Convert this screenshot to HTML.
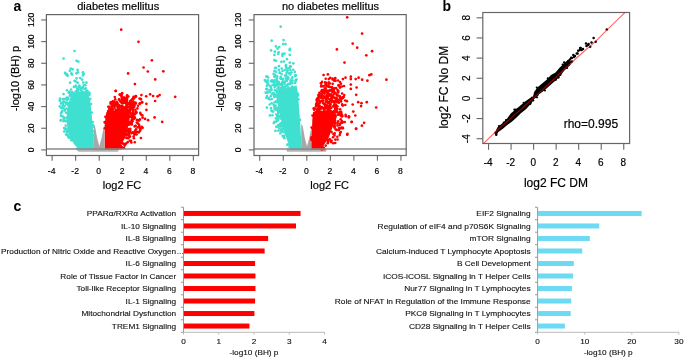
<!DOCTYPE html>
<html><head><meta charset="utf-8"><style>
html,body{margin:0;padding:0;background:#fff;overflow:hidden;}
svg{display:block;will-change:transform;}
text{font-family:"Liberation Sans",sans-serif;}
</style></head><body>
<svg width="685" height="358" viewBox="0 0 685 358">
<rect width="685" height="358" fill="#fff"/>
<rect x="77.5" y="148.5" width="41" height="3.3" rx="1.6" fill="#b4b4b4"/>
<rect x="286.5" y="148.5" width="40" height="3.3" rx="1.6" fill="#b4b4b4"/>
<polygon points="93.7,124.0 93.7,150.6 104.6,150.6 104.6,124.0 103.5,128.0 101.7,137.5 99.3,146.3 97.0,137.5 95.0,126.0" fill="#a8a8a8"/>
<polygon points="301.2,124.0 301.2,150.6 312.3,150.6 312.3,124.0 311.2,128.0 309.4,137.5 307.0,146.3 304.7,137.5 302.7,126.0" fill="#a8a8a8"/>
<polygon points="74.0,91.5 76.0,93.0 78.0,90.0 80.0,92.0 82.0,89.5 84.0,91.5 85.5,90.0 87.8,92.0 90.2,100.1 92.2,120.2 93.6,136.2 94.0,149.8 78.5,149.8 77.0,147.5 74.0,144.0 70.0,138.0 67.5,130.0 66.5,120.0 67.0,110.0 69.5,100.0 71.0,96.0 72.5,94.0" fill="#40e0d0"/>
<circle cx="73.9" cy="86.9" r="1.3" fill="#40e0d0"/><circle cx="67.2" cy="100.0" r="1.3" fill="#40e0d0"/><circle cx="89.3" cy="92.8" r="1.3" fill="#40e0d0"/><circle cx="79.7" cy="87.2" r="1.3" fill="#40e0d0"/><circle cx="65.1" cy="120.6" r="1.3" fill="#40e0d0"/><circle cx="60.0" cy="99.9" r="1.3" fill="#40e0d0"/><circle cx="71.1" cy="89.5" r="1.3" fill="#40e0d0"/><circle cx="75.7" cy="86.5" r="1.3" fill="#40e0d0"/><circle cx="64.2" cy="131.6" r="1.3" fill="#40e0d0"/><circle cx="81.2" cy="88.8" r="1.3" fill="#40e0d0"/><circle cx="66.2" cy="128.7" r="1.3" fill="#40e0d0"/><circle cx="66.5" cy="128.7" r="1.3" fill="#40e0d0"/><circle cx="67.3" cy="132.0" r="1.3" fill="#40e0d0"/><circle cx="63.8" cy="120.7" r="1.3" fill="#40e0d0"/><circle cx="66.9" cy="90.3" r="1.3" fill="#40e0d0"/><circle cx="91.0" cy="104.1" r="1.3" fill="#40e0d0"/><circle cx="75.8" cy="91.5" r="1.3" fill="#40e0d0"/><circle cx="59.7" cy="100.8" r="1.3" fill="#40e0d0"/><circle cx="78.4" cy="89.6" r="1.3" fill="#40e0d0"/><circle cx="89.4" cy="95.0" r="1.3" fill="#40e0d0"/><circle cx="93.7" cy="138.2" r="1.3" fill="#40e0d0"/><circle cx="61.2" cy="108.0" r="1.3" fill="#40e0d0"/><circle cx="81.8" cy="88.1" r="1.3" fill="#40e0d0"/><circle cx="92.8" cy="122.0" r="1.3" fill="#40e0d0"/><circle cx="67.8" cy="99.1" r="1.3" fill="#40e0d0"/><circle cx="85.7" cy="88.4" r="1.3" fill="#40e0d0"/><circle cx="63.2" cy="104.1" r="1.3" fill="#40e0d0"/><circle cx="85.4" cy="85.3" r="1.3" fill="#40e0d0"/><circle cx="66.3" cy="103.5" r="1.3" fill="#40e0d0"/><circle cx="63.8" cy="117.4" r="1.3" fill="#40e0d0"/><circle cx="77.0" cy="149.0" r="1.3" fill="#40e0d0"/><circle cx="69.7" cy="96.0" r="1.3" fill="#40e0d0"/><circle cx="65.7" cy="125.6" r="1.3" fill="#40e0d0"/><circle cx="67.5" cy="131.5" r="1.3" fill="#40e0d0"/><circle cx="69.8" cy="91.9" r="1.3" fill="#40e0d0"/><circle cx="76.3" cy="91.5" r="1.3" fill="#40e0d0"/><circle cx="90.3" cy="99.0" r="1.3" fill="#40e0d0"/><circle cx="92.9" cy="124.7" r="1.3" fill="#40e0d0"/><circle cx="88.5" cy="92.7" r="1.3" fill="#40e0d0"/><circle cx="62.4" cy="110.9" r="1.3" fill="#40e0d0"/><circle cx="66.5" cy="131.3" r="1.3" fill="#40e0d0"/><circle cx="64.1" cy="128.1" r="1.3" fill="#40e0d0"/><circle cx="72.4" cy="93.4" r="1.3" fill="#40e0d0"/><circle cx="68.6" cy="92.6" r="1.3" fill="#40e0d0"/><circle cx="93.1" cy="126.6" r="1.3" fill="#40e0d0"/><circle cx="77.4" cy="88.9" r="1.3" fill="#40e0d0"/><circle cx="87.2" cy="90.6" r="1.3" fill="#40e0d0"/><circle cx="70.0" cy="93.4" r="1.3" fill="#40e0d0"/><circle cx="64.5" cy="109.0" r="1.3" fill="#40e0d0"/><circle cx="62.4" cy="107.4" r="1.3" fill="#40e0d0"/><circle cx="63.7" cy="118.9" r="1.3" fill="#40e0d0"/><circle cx="77.5" cy="90.1" r="1.3" fill="#40e0d0"/><circle cx="68.0" cy="98.0" r="1.3" fill="#40e0d0"/><circle cx="63.1" cy="108.0" r="1.3" fill="#40e0d0"/><circle cx="93.2" cy="131.4" r="1.3" fill="#40e0d0"/><circle cx="68.3" cy="103.1" r="1.3" fill="#40e0d0"/><circle cx="66.6" cy="134.2" r="1.3" fill="#40e0d0"/><circle cx="67.0" cy="102.8" r="1.3" fill="#40e0d0"/><circle cx="65.9" cy="121.3" r="1.3" fill="#40e0d0"/><circle cx="66.5" cy="108.8" r="1.3" fill="#40e0d0"/><circle cx="63.5" cy="94.1" r="1.3" fill="#40e0d0"/><circle cx="67.0" cy="97.9" r="1.3" fill="#40e0d0"/><circle cx="59.8" cy="106.4" r="1.3" fill="#40e0d0"/><circle cx="67.8" cy="134.9" r="1.3" fill="#40e0d0"/><circle cx="78.3" cy="88.5" r="1.3" fill="#40e0d0"/><circle cx="65.2" cy="98.9" r="1.3" fill="#40e0d0"/><circle cx="83.1" cy="87.0" r="1.3" fill="#40e0d0"/><circle cx="89.9" cy="99.0" r="1.3" fill="#40e0d0"/><circle cx="60.9" cy="115.5" r="1.3" fill="#40e0d0"/><circle cx="83.8" cy="85.0" r="1.3" fill="#40e0d0"/><circle cx="61.0" cy="113.2" r="1.3" fill="#40e0d0"/><circle cx="69.3" cy="137.9" r="1.3" fill="#40e0d0"/><circle cx="77.3" cy="88.6" r="1.3" fill="#40e0d0"/><circle cx="72.2" cy="92.1" r="1.3" fill="#40e0d0"/><circle cx="67.7" cy="135.5" r="1.3" fill="#40e0d0"/><circle cx="64.9" cy="110.6" r="1.3" fill="#40e0d0"/><circle cx="71.7" cy="94.8" r="1.3" fill="#40e0d0"/><circle cx="70.8" cy="94.2" r="1.3" fill="#40e0d0"/><circle cx="63.6" cy="101.4" r="1.3" fill="#40e0d0"/><circle cx="66.0" cy="112.8" r="1.3" fill="#40e0d0"/><circle cx="81.0" cy="90.0" r="1.3" fill="#40e0d0"/><circle cx="78.0" cy="89.8" r="1.3" fill="#40e0d0"/><circle cx="66.9" cy="131.0" r="1.3" fill="#40e0d0"/><circle cx="66.3" cy="117.9" r="1.3" fill="#40e0d0"/><circle cx="66.1" cy="134.5" r="1.3" fill="#40e0d0"/><circle cx="63.6" cy="121.3" r="1.3" fill="#40e0d0"/><circle cx="82.9" cy="87.8" r="1.3" fill="#40e0d0"/><circle cx="93.5" cy="135.3" r="1.3" fill="#40e0d0"/><circle cx="70.2" cy="94.7" r="1.3" fill="#40e0d0"/><circle cx="64.7" cy="106.1" r="1.3" fill="#40e0d0"/><circle cx="62.8" cy="105.6" r="1.3" fill="#40e0d0"/><circle cx="80.8" cy="89.9" r="1.3" fill="#40e0d0"/><circle cx="68.3" cy="98.6" r="1.3" fill="#40e0d0"/><circle cx="89.3" cy="93.6" r="1.3" fill="#40e0d0"/><circle cx="63.3" cy="102.3" r="1.3" fill="#40e0d0"/><circle cx="66.4" cy="103.7" r="1.3" fill="#40e0d0"/><circle cx="65.4" cy="129.3" r="1.3" fill="#40e0d0"/><circle cx="91.8" cy="112.6" r="1.3" fill="#40e0d0"/><circle cx="68.1" cy="105.1" r="1.3" fill="#40e0d0"/>
<circle cx="74.5" cy="51.0" r="1.35" fill="#40e0d0"/><circle cx="63.6" cy="58.6" r="1.35" fill="#40e0d0"/><circle cx="76.6" cy="60.8" r="1.35" fill="#40e0d0"/><circle cx="78.3" cy="61.6" r="1.35" fill="#40e0d0"/><circle cx="70.7" cy="68.6" r="1.35" fill="#40e0d0"/><circle cx="72.6" cy="69.3" r="1.35" fill="#40e0d0"/><circle cx="69.8" cy="70.8" r="1.35" fill="#40e0d0"/><circle cx="77.6" cy="69.9" r="1.35" fill="#40e0d0"/><circle cx="65.1" cy="72.9" r="1.35" fill="#40e0d0"/><circle cx="67.0" cy="74.2" r="1.35" fill="#40e0d0"/><circle cx="67.6" cy="75.8" r="1.35" fill="#40e0d0"/><circle cx="66.1" cy="74.6" r="1.35" fill="#40e0d0"/><circle cx="72.0" cy="74.6" r="1.35" fill="#40e0d0"/><circle cx="71.4" cy="73.3" r="1.35" fill="#40e0d0"/><circle cx="76.4" cy="73.3" r="1.35" fill="#40e0d0"/><circle cx="77.9" cy="72.4" r="1.35" fill="#40e0d0"/><circle cx="82.9" cy="72.4" r="1.35" fill="#40e0d0"/><circle cx="83.7" cy="73.9" r="1.35" fill="#40e0d0"/><circle cx="82.9" cy="75.4" r="1.35" fill="#40e0d0"/><circle cx="76.6" cy="78.3" r="1.35" fill="#40e0d0"/><circle cx="80.2" cy="78.0" r="1.35" fill="#40e0d0"/><circle cx="82.0" cy="79.6" r="1.35" fill="#40e0d0"/><circle cx="74.5" cy="80.8" r="1.35" fill="#40e0d0"/><circle cx="75.8" cy="81.5" r="1.35" fill="#40e0d0"/><circle cx="70.1" cy="82.7" r="1.35" fill="#40e0d0"/><circle cx="77.6" cy="82.7" r="1.35" fill="#40e0d0"/><circle cx="83.3" cy="82.5" r="1.35" fill="#40e0d0"/><circle cx="86.4" cy="82.7" r="1.35" fill="#40e0d0"/><circle cx="75.8" cy="85.9" r="1.35" fill="#40e0d0"/><circle cx="78.9" cy="86.5" r="1.35" fill="#40e0d0"/><circle cx="82.0" cy="87.8" r="1.35" fill="#40e0d0"/><circle cx="84.6" cy="89.0" r="1.35" fill="#40e0d0"/><circle cx="76.0" cy="86.0" r="1.35" fill="#40e0d0"/><circle cx="79.4" cy="85.6" r="1.35" fill="#40e0d0"/><circle cx="69.3" cy="91.9" r="1.35" fill="#40e0d0"/><circle cx="87.7" cy="91.9" r="1.35" fill="#40e0d0"/><circle cx="60.1" cy="98.6" r="1.35" fill="#40e0d0"/><circle cx="66.8" cy="97.8" r="1.35" fill="#40e0d0"/><circle cx="61.8" cy="102.8" r="1.35" fill="#40e0d0"/><circle cx="65.1" cy="102.0" r="1.35" fill="#40e0d0"/><circle cx="61.0" cy="103.4" r="1.35" fill="#40e0d0"/><circle cx="61.8" cy="111.8" r="1.35" fill="#40e0d0"/><circle cx="61.0" cy="120.0" r="1.35" fill="#40e0d0"/><circle cx="62.3" cy="116.1" r="1.35" fill="#40e0d0"/><circle cx="60.6" cy="120.6" r="1.35" fill="#40e0d0"/><circle cx="63.0" cy="99.0" r="1.35" fill="#40e0d0"/><circle cx="64.8" cy="128.5" r="1.35" fill="#40e0d0"/><circle cx="68.5" cy="136.9" r="1.35" fill="#40e0d0"/><circle cx="69.6" cy="137.4" r="1.35" fill="#40e0d0"/><circle cx="71.3" cy="140.2" r="1.35" fill="#40e0d0"/><circle cx="73.0" cy="139.0" r="1.35" fill="#40e0d0"/>
<polygon points="106.5,112.0 112.0,110.0 118.0,111.0 124.0,109.5 129.0,111.0 130.0,115.0 129.5,120.0 128.0,127.0 127.0,132.0 125.0,138.0 122.5,142.2 120.0,146.0 119.0,149.8 104.8,149.8 104.8,125.0 105.6,115.7" fill="#ff0000"/>
<circle cx="115.6" cy="109.8" r="1.3" fill="#ff0000"/><circle cx="128.4" cy="133.7" r="1.3" fill="#ff0000"/><circle cx="111.8" cy="102.8" r="1.3" fill="#ff0000"/><circle cx="109.4" cy="108.7" r="1.3" fill="#ff0000"/><circle cx="128.8" cy="131.1" r="1.3" fill="#ff0000"/><circle cx="132.5" cy="121.2" r="1.3" fill="#ff0000"/><circle cx="132.4" cy="106.9" r="1.3" fill="#ff0000"/><circle cx="124.0" cy="109.4" r="1.3" fill="#ff0000"/><circle cx="111.3" cy="102.2" r="1.3" fill="#ff0000"/><circle cx="116.7" cy="110.6" r="1.3" fill="#ff0000"/><circle cx="131.6" cy="122.3" r="1.3" fill="#ff0000"/><circle cx="112.7" cy="109.3" r="1.3" fill="#ff0000"/><circle cx="132.5" cy="105.4" r="1.3" fill="#ff0000"/><circle cx="117.9" cy="110.9" r="1.3" fill="#ff0000"/><circle cx="104.8" cy="128.2" r="1.3" fill="#ff0000"/><circle cx="120.9" cy="145.9" r="1.3" fill="#ff0000"/><circle cx="120.8" cy="102.1" r="1.3" fill="#ff0000"/><circle cx="123.6" cy="108.7" r="1.3" fill="#ff0000"/><circle cx="132.9" cy="110.4" r="1.3" fill="#ff0000"/><circle cx="110.6" cy="103.7" r="1.3" fill="#ff0000"/><circle cx="124.9" cy="102.6" r="1.3" fill="#ff0000"/><circle cx="120.1" cy="148.3" r="1.3" fill="#ff0000"/><circle cx="129.4" cy="130.8" r="1.3" fill="#ff0000"/><circle cx="131.9" cy="108.7" r="1.3" fill="#ff0000"/><circle cx="109.6" cy="109.3" r="1.3" fill="#ff0000"/><circle cx="112.8" cy="101.3" r="1.3" fill="#ff0000"/><circle cx="114.3" cy="103.0" r="1.3" fill="#ff0000"/><circle cx="124.5" cy="102.1" r="1.3" fill="#ff0000"/><circle cx="128.8" cy="124.4" r="1.3" fill="#ff0000"/><circle cx="125.9" cy="107.9" r="1.3" fill="#ff0000"/><circle cx="116.0" cy="102.8" r="1.3" fill="#ff0000"/><circle cx="133.4" cy="106.8" r="1.3" fill="#ff0000"/><circle cx="114.2" cy="106.0" r="1.3" fill="#ff0000"/><circle cx="132.5" cy="108.2" r="1.3" fill="#ff0000"/><circle cx="119.9" cy="106.3" r="1.3" fill="#ff0000"/><circle cx="131.8" cy="108.1" r="1.3" fill="#ff0000"/><circle cx="114.4" cy="104.8" r="1.3" fill="#ff0000"/><circle cx="116.0" cy="103.3" r="1.3" fill="#ff0000"/><circle cx="119.7" cy="107.1" r="1.3" fill="#ff0000"/><circle cx="124.0" cy="108.7" r="1.3" fill="#ff0000"/><circle cx="129.0" cy="103.9" r="1.3" fill="#ff0000"/><circle cx="115.6" cy="104.4" r="1.3" fill="#ff0000"/><circle cx="112.5" cy="104.3" r="1.3" fill="#ff0000"/><circle cx="132.0" cy="119.5" r="1.3" fill="#ff0000"/><circle cx="126.5" cy="138.0" r="1.3" fill="#ff0000"/><circle cx="131.5" cy="102.9" r="1.3" fill="#ff0000"/><circle cx="125.9" cy="102.1" r="1.3" fill="#ff0000"/><circle cx="125.7" cy="107.1" r="1.3" fill="#ff0000"/><circle cx="111.9" cy="107.5" r="1.3" fill="#ff0000"/><circle cx="130.2" cy="109.0" r="1.3" fill="#ff0000"/><circle cx="130.2" cy="116.9" r="1.3" fill="#ff0000"/><circle cx="128.4" cy="110.6" r="1.3" fill="#ff0000"/><circle cx="122.2" cy="109.4" r="1.3" fill="#ff0000"/><circle cx="112.7" cy="102.4" r="1.3" fill="#ff0000"/><circle cx="133.3" cy="112.9" r="1.3" fill="#ff0000"/><circle cx="118.9" cy="106.4" r="1.3" fill="#ff0000"/><circle cx="132.1" cy="115.7" r="1.3" fill="#ff0000"/><circle cx="128.2" cy="129.9" r="1.3" fill="#ff0000"/><circle cx="126.3" cy="102.7" r="1.3" fill="#ff0000"/><circle cx="127.0" cy="105.1" r="1.3" fill="#ff0000"/><circle cx="118.5" cy="109.1" r="1.3" fill="#ff0000"/><circle cx="116.7" cy="101.7" r="1.3" fill="#ff0000"/><circle cx="132.6" cy="113.3" r="1.3" fill="#ff0000"/><circle cx="126.5" cy="137.6" r="1.3" fill="#ff0000"/><circle cx="122.4" cy="109.6" r="1.3" fill="#ff0000"/><circle cx="130.1" cy="106.1" r="1.3" fill="#ff0000"/><circle cx="126.0" cy="106.6" r="1.3" fill="#ff0000"/><circle cx="117.7" cy="110.1" r="1.3" fill="#ff0000"/><circle cx="117.3" cy="105.2" r="1.3" fill="#ff0000"/><circle cx="121.4" cy="107.7" r="1.3" fill="#ff0000"/><circle cx="119.1" cy="99.3" r="1.3" fill="#ff0000"/><circle cx="120.4" cy="101.3" r="1.3" fill="#ff0000"/><circle cx="127.6" cy="103.3" r="1.3" fill="#ff0000"/><circle cx="132.9" cy="117.3" r="1.3" fill="#ff0000"/><circle cx="124.6" cy="102.6" r="1.3" fill="#ff0000"/><circle cx="122.2" cy="142.9" r="1.3" fill="#ff0000"/><circle cx="130.3" cy="128.7" r="1.3" fill="#ff0000"/><circle cx="128.7" cy="107.5" r="1.3" fill="#ff0000"/><circle cx="109.5" cy="106.8" r="1.3" fill="#ff0000"/><circle cx="122.6" cy="101.9" r="1.3" fill="#ff0000"/><circle cx="110.4" cy="110.2" r="1.3" fill="#ff0000"/><circle cx="119.7" cy="109.8" r="1.3" fill="#ff0000"/><circle cx="133.3" cy="105.5" r="1.3" fill="#ff0000"/><circle cx="132.8" cy="108.5" r="1.3" fill="#ff0000"/><circle cx="120.7" cy="110.0" r="1.3" fill="#ff0000"/><circle cx="130.2" cy="124.1" r="1.3" fill="#ff0000"/><circle cx="130.6" cy="116.7" r="1.3" fill="#ff0000"/><circle cx="123.2" cy="103.3" r="1.3" fill="#ff0000"/><circle cx="105.4" cy="116.9" r="1.3" fill="#ff0000"/><circle cx="121.1" cy="107.3" r="1.3" fill="#ff0000"/><circle cx="133.0" cy="107.4" r="1.3" fill="#ff0000"/><circle cx="128.7" cy="132.6" r="1.3" fill="#ff0000"/><circle cx="130.2" cy="112.2" r="1.3" fill="#ff0000"/><circle cx="132.3" cy="106.1" r="1.3" fill="#ff0000"/><circle cx="131.5" cy="123.9" r="1.3" fill="#ff0000"/><circle cx="125.1" cy="109.2" r="1.3" fill="#ff0000"/><circle cx="117.4" cy="104.6" r="1.3" fill="#ff0000"/><circle cx="117.8" cy="104.7" r="1.3" fill="#ff0000"/><circle cx="127.0" cy="133.8" r="1.3" fill="#ff0000"/><circle cx="104.8" cy="122.1" r="1.3" fill="#ff0000"/><circle cx="125.6" cy="99.6" r="1.3" fill="#ff0000"/><circle cx="131.8" cy="107.0" r="1.3" fill="#ff0000"/><circle cx="114.5" cy="107.7" r="1.3" fill="#ff0000"/><circle cx="129.7" cy="104.4" r="1.3" fill="#ff0000"/><circle cx="128.2" cy="106.9" r="1.3" fill="#ff0000"/><circle cx="133.1" cy="106.2" r="1.3" fill="#ff0000"/><circle cx="121.8" cy="105.5" r="1.3" fill="#ff0000"/><circle cx="124.9" cy="99.8" r="1.3" fill="#ff0000"/><circle cx="127.4" cy="134.4" r="1.3" fill="#ff0000"/><circle cx="127.1" cy="101.1" r="1.3" fill="#ff0000"/><circle cx="132.2" cy="117.9" r="1.3" fill="#ff0000"/><circle cx="127.5" cy="110.1" r="1.3" fill="#ff0000"/><circle cx="131.8" cy="105.2" r="1.3" fill="#ff0000"/><circle cx="130.6" cy="113.7" r="1.3" fill="#ff0000"/><circle cx="119.8" cy="147.1" r="1.3" fill="#ff0000"/><circle cx="129.4" cy="122.0" r="1.3" fill="#ff0000"/><circle cx="126.0" cy="107.4" r="1.3" fill="#ff0000"/><circle cx="112.5" cy="109.2" r="1.3" fill="#ff0000"/><circle cx="127.5" cy="130.9" r="1.3" fill="#ff0000"/><circle cx="104.8" cy="122.5" r="1.3" fill="#ff0000"/><circle cx="131.3" cy="116.8" r="1.3" fill="#ff0000"/><circle cx="110.8" cy="108.6" r="1.3" fill="#ff0000"/><circle cx="126.5" cy="134.9" r="1.3" fill="#ff0000"/><circle cx="117.4" cy="107.0" r="1.3" fill="#ff0000"/><circle cx="121.9" cy="102.2" r="1.3" fill="#ff0000"/><circle cx="108.3" cy="106.8" r="1.3" fill="#ff0000"/><circle cx="128.6" cy="124.7" r="1.3" fill="#ff0000"/><circle cx="133.5" cy="114.9" r="1.3" fill="#ff0000"/><circle cx="111.2" cy="102.2" r="1.3" fill="#ff0000"/><circle cx="131.6" cy="116.3" r="1.3" fill="#ff0000"/><circle cx="126.3" cy="110.1" r="1.3" fill="#ff0000"/><circle cx="132.1" cy="104.2" r="1.3" fill="#ff0000"/><circle cx="130.0" cy="110.9" r="1.3" fill="#ff0000"/><circle cx="126.7" cy="108.3" r="1.3" fill="#ff0000"/><circle cx="112.2" cy="105.3" r="1.3" fill="#ff0000"/><circle cx="123.1" cy="100.3" r="1.3" fill="#ff0000"/><circle cx="128.4" cy="129.1" r="1.3" fill="#ff0000"/><circle cx="132.7" cy="116.0" r="1.3" fill="#ff0000"/><circle cx="131.6" cy="103.5" r="1.3" fill="#ff0000"/><circle cx="118.4" cy="108.0" r="1.3" fill="#ff0000"/><circle cx="124.3" cy="108.0" r="1.3" fill="#ff0000"/><circle cx="117.9" cy="108.7" r="1.3" fill="#ff0000"/><circle cx="130.3" cy="106.1" r="1.3" fill="#ff0000"/><circle cx="119.7" cy="107.2" r="1.3" fill="#ff0000"/><circle cx="122.3" cy="143.5" r="1.3" fill="#ff0000"/><circle cx="115.2" cy="105.6" r="1.3" fill="#ff0000"/><circle cx="129.2" cy="132.3" r="1.3" fill="#ff0000"/><circle cx="119.2" cy="105.4" r="1.3" fill="#ff0000"/><circle cx="126.5" cy="104.4" r="1.3" fill="#ff0000"/><circle cx="130.4" cy="109.6" r="1.3" fill="#ff0000"/><circle cx="130.4" cy="106.4" r="1.3" fill="#ff0000"/><circle cx="111.3" cy="109.1" r="1.3" fill="#ff0000"/><circle cx="132.4" cy="121.1" r="1.3" fill="#ff0000"/><circle cx="133.3" cy="112.1" r="1.3" fill="#ff0000"/><circle cx="119.3" cy="99.9" r="1.3" fill="#ff0000"/><circle cx="115.2" cy="99.4" r="1.3" fill="#ff0000"/><circle cx="130.4" cy="122.5" r="1.3" fill="#ff0000"/><circle cx="110.8" cy="102.2" r="1.3" fill="#ff0000"/><circle cx="123.2" cy="106.7" r="1.3" fill="#ff0000"/><circle cx="132.4" cy="114.2" r="1.3" fill="#ff0000"/><circle cx="108.1" cy="111.1" r="1.3" fill="#ff0000"/><circle cx="117.6" cy="103.2" r="1.3" fill="#ff0000"/><circle cx="111.8" cy="105.9" r="1.3" fill="#ff0000"/><circle cx="114.0" cy="101.5" r="1.3" fill="#ff0000"/><circle cx="131.5" cy="120.6" r="1.3" fill="#ff0000"/>
<circle cx="114.8" cy="97.0" r="1.3" fill="#ff0000"/><circle cx="133.9" cy="138.3" r="1.3" fill="#ff0000"/><circle cx="140.5" cy="129.2" r="1.3" fill="#ff0000"/><circle cx="137.4" cy="108.4" r="1.3" fill="#ff0000"/><circle cx="135.8" cy="103.6" r="1.3" fill="#ff0000"/><circle cx="133.1" cy="101.2" r="1.3" fill="#ff0000"/><circle cx="135.3" cy="133.9" r="1.3" fill="#ff0000"/><circle cx="126.9" cy="97.8" r="1.3" fill="#ff0000"/><circle cx="140.0" cy="128.5" r="1.3" fill="#ff0000"/><circle cx="142.4" cy="115.4" r="1.3" fill="#ff0000"/><circle cx="130.9" cy="100.5" r="1.3" fill="#ff0000"/><circle cx="136.9" cy="131.9" r="1.3" fill="#ff0000"/><circle cx="127.2" cy="99.0" r="1.3" fill="#ff0000"/><circle cx="133.5" cy="116.6" r="1.3" fill="#ff0000"/><circle cx="134.4" cy="134.6" r="1.3" fill="#ff0000"/><circle cx="135.3" cy="109.7" r="1.3" fill="#ff0000"/><circle cx="134.6" cy="126.4" r="1.3" fill="#ff0000"/><circle cx="121.5" cy="96.6" r="1.3" fill="#ff0000"/><circle cx="129.9" cy="136.7" r="1.3" fill="#ff0000"/><circle cx="134.0" cy="105.9" r="1.3" fill="#ff0000"/><circle cx="135.5" cy="102.6" r="1.3" fill="#ff0000"/><circle cx="129.8" cy="136.4" r="1.3" fill="#ff0000"/><circle cx="133.5" cy="104.5" r="1.3" fill="#ff0000"/><circle cx="134.7" cy="117.2" r="1.3" fill="#ff0000"/><circle cx="134.8" cy="142.3" r="1.3" fill="#ff0000"/><circle cx="136.2" cy="111.7" r="1.3" fill="#ff0000"/><circle cx="135.1" cy="130.8" r="1.3" fill="#ff0000"/><circle cx="140.3" cy="112.9" r="1.3" fill="#ff0000"/><circle cx="133.8" cy="118.9" r="1.3" fill="#ff0000"/><circle cx="134.1" cy="98.4" r="1.3" fill="#ff0000"/><circle cx="136.9" cy="119.9" r="1.3" fill="#ff0000"/><circle cx="124.7" cy="97.5" r="1.3" fill="#ff0000"/><circle cx="123.8" cy="98.3" r="1.3" fill="#ff0000"/><circle cx="139.8" cy="103.9" r="1.3" fill="#ff0000"/><circle cx="136.0" cy="129.4" r="1.3" fill="#ff0000"/><circle cx="135.7" cy="125.8" r="1.3" fill="#ff0000"/><circle cx="131.6" cy="133.3" r="1.3" fill="#ff0000"/><circle cx="128.6" cy="135.7" r="1.3" fill="#ff0000"/><circle cx="122.8" cy="97.6" r="1.3" fill="#ff0000"/><circle cx="139.1" cy="120.4" r="1.3" fill="#ff0000"/><circle cx="139.2" cy="126.2" r="1.3" fill="#ff0000"/><circle cx="124.7" cy="145.6" r="1.3" fill="#ff0000"/><circle cx="127.8" cy="142.1" r="1.3" fill="#ff0000"/><circle cx="138.6" cy="132.4" r="1.3" fill="#ff0000"/><circle cx="138.0" cy="105.8" r="1.3" fill="#ff0000"/><circle cx="139.8" cy="103.3" r="1.3" fill="#ff0000"/><circle cx="140.9" cy="114.5" r="1.3" fill="#ff0000"/><circle cx="140.0" cy="128.2" r="1.3" fill="#ff0000"/><circle cx="124.1" cy="148.0" r="1.3" fill="#ff0000"/><circle cx="128.4" cy="96.5" r="1.3" fill="#ff0000"/><circle cx="137.1" cy="120.3" r="1.3" fill="#ff0000"/><circle cx="122.2" cy="147.2" r="1.3" fill="#ff0000"/><circle cx="134.0" cy="133.1" r="1.3" fill="#ff0000"/><circle cx="135.2" cy="114.1" r="1.3" fill="#ff0000"/><circle cx="130.1" cy="130.6" r="1.3" fill="#ff0000"/><circle cx="130.3" cy="131.6" r="1.3" fill="#ff0000"/><circle cx="136.6" cy="112.8" r="1.3" fill="#ff0000"/><circle cx="139.9" cy="119.4" r="1.3" fill="#ff0000"/><circle cx="137.7" cy="127.2" r="1.3" fill="#ff0000"/><circle cx="128.2" cy="138.3" r="1.3" fill="#ff0000"/><circle cx="134.5" cy="105.8" r="1.3" fill="#ff0000"/><circle cx="122.0" cy="147.6" r="1.3" fill="#ff0000"/><circle cx="134.7" cy="103.4" r="1.3" fill="#ff0000"/><circle cx="129.1" cy="134.4" r="1.3" fill="#ff0000"/><circle cx="133.5" cy="102.5" r="1.3" fill="#ff0000"/><circle cx="126.3" cy="143.2" r="1.3" fill="#ff0000"/><circle cx="129.8" cy="140.7" r="1.3" fill="#ff0000"/><circle cx="140.1" cy="130.8" r="1.3" fill="#ff0000"/><circle cx="134.0" cy="107.2" r="1.3" fill="#ff0000"/><circle cx="125.3" cy="144.6" r="1.3" fill="#ff0000"/><circle cx="136.6" cy="134.5" r="1.3" fill="#ff0000"/><circle cx="131.8" cy="124.4" r="1.3" fill="#ff0000"/><circle cx="131.0" cy="140.7" r="1.3" fill="#ff0000"/><circle cx="135.8" cy="111.9" r="1.3" fill="#ff0000"/><circle cx="138.6" cy="120.2" r="1.3" fill="#ff0000"/><circle cx="136.8" cy="122.5" r="1.3" fill="#ff0000"/><circle cx="121.2" cy="148.2" r="1.3" fill="#ff0000"/><circle cx="124.0" cy="143.9" r="1.3" fill="#ff0000"/><circle cx="132.9" cy="132.2" r="1.3" fill="#ff0000"/><circle cx="139.1" cy="124.9" r="1.3" fill="#ff0000"/><circle cx="134.9" cy="118.0" r="1.3" fill="#ff0000"/><circle cx="141.8" cy="126.9" r="1.3" fill="#ff0000"/>
<circle cx="115.8" cy="90.9" r="1.35" fill="#ff0000"/><circle cx="119.7" cy="94.6" r="1.35" fill="#ff0000"/><circle cx="122.1" cy="93.2" r="1.35" fill="#ff0000"/><circle cx="121.4" cy="95.3" r="1.35" fill="#ff0000"/><circle cx="127.0" cy="95.7" r="1.35" fill="#ff0000"/><circle cx="135.7" cy="96.4" r="1.35" fill="#ff0000"/><circle cx="133.7" cy="97.4" r="1.35" fill="#ff0000"/><circle cx="132.3" cy="99.2" r="1.35" fill="#ff0000"/><circle cx="139.6" cy="98.5" r="1.35" fill="#ff0000"/><circle cx="130.2" cy="101.3" r="1.35" fill="#ff0000"/><circle cx="129.5" cy="103.0" r="1.35" fill="#ff0000"/><circle cx="121.2" cy="29.7" r="1.35" fill="#ff0000"/><circle cx="138.5" cy="41.8" r="1.35" fill="#ff0000"/><circle cx="151.9" cy="60.3" r="1.35" fill="#ff0000"/><circle cx="143.6" cy="67.5" r="1.35" fill="#ff0000"/><circle cx="147.8" cy="71.5" r="1.35" fill="#ff0000"/><circle cx="163.3" cy="71.3" r="1.35" fill="#ff0000"/><circle cx="128.1" cy="73.4" r="1.35" fill="#ff0000"/><circle cx="155.2" cy="79.4" r="1.35" fill="#ff0000"/><circle cx="134.9" cy="84.1" r="1.35" fill="#ff0000"/><circle cx="115.7" cy="91.0" r="1.35" fill="#ff0000"/><circle cx="120.2" cy="94.5" r="1.35" fill="#ff0000"/><circle cx="121.8" cy="94.0" r="1.35" fill="#ff0000"/><circle cx="127.2" cy="95.7" r="1.35" fill="#ff0000"/><circle cx="141.4" cy="95.1" r="1.35" fill="#ff0000"/><circle cx="135.8" cy="96.6" r="1.35" fill="#ff0000"/><circle cx="133.6" cy="97.9" r="1.35" fill="#ff0000"/><circle cx="146.2" cy="96.3" r="1.35" fill="#ff0000"/><circle cx="150.1" cy="94.3" r="1.35" fill="#ff0000"/><circle cx="153.1" cy="96.0" r="1.35" fill="#ff0000"/><circle cx="157.6" cy="96.3" r="1.35" fill="#ff0000"/><circle cx="159.6" cy="95.1" r="1.35" fill="#ff0000"/><circle cx="175.2" cy="96.8" r="1.35" fill="#ff0000"/><circle cx="155.1" cy="101.0" r="1.35" fill="#ff0000"/><circle cx="140.9" cy="99.3" r="1.35" fill="#ff0000"/><circle cx="142.1" cy="102.2" r="1.35" fill="#ff0000"/><circle cx="146.4" cy="103.8" r="1.35" fill="#ff0000"/><circle cx="146.4" cy="109.9" r="1.35" fill="#ff0000"/><circle cx="154.6" cy="117.4" r="1.35" fill="#ff0000"/><circle cx="142.6" cy="117.7" r="1.35" fill="#ff0000"/><circle cx="145.1" cy="118.9" r="1.35" fill="#ff0000"/><circle cx="148.1" cy="120.2" r="1.35" fill="#ff0000"/><circle cx="162.2" cy="121.9" r="1.35" fill="#ff0000"/><circle cx="138.0" cy="123.6" r="1.35" fill="#ff0000"/><circle cx="142.6" cy="127.8" r="1.35" fill="#ff0000"/><circle cx="135.3" cy="126.0" r="1.35" fill="#ff0000"/><circle cx="139.2" cy="126.5" r="1.35" fill="#ff0000"/><circle cx="134.7" cy="132.5" r="1.35" fill="#ff0000"/><circle cx="139.2" cy="131.8" r="1.35" fill="#ff0000"/><circle cx="133.6" cy="136.5" r="1.35" fill="#ff0000"/><circle cx="140.9" cy="138.0" r="1.35" fill="#ff0000"/><circle cx="131.4" cy="142.5" r="1.35" fill="#ff0000"/><circle cx="142.0" cy="102.4" r="1.35" fill="#ff0000"/><circle cx="140.9" cy="99.0" r="1.35" fill="#ff0000"/><circle cx="133.7" cy="96.8" r="1.35" fill="#ff0000"/><circle cx="135.9" cy="96.0" r="1.35" fill="#ff0000"/>
<polygon points="120.5,97.5 124.0,96.5 127.5,99.0 128.0,104.0 121.0,104.0" fill="#ff0000"/>
<polygon points="282.0,88.0 284.0,86.0 286.0,88.5 288.0,85.5 290.0,87.5 292.0,85.0 294.0,86.5 296.4,85.0 297.4,90.0 298.2,97.7 299.3,110.0 300.2,122.8 301.2,140.4 301.4,149.8 290.7,149.8 288.7,144.4 284.5,133.0 281.5,122.0 279.0,111.0 276.5,97.7 276.0,92.0 279.0,90.0" fill="#40e0d0"/>
<circle cx="273.2" cy="111.6" r="1.3" fill="#40e0d0"/><circle cx="281.9" cy="126.2" r="1.3" fill="#40e0d0"/><circle cx="280.6" cy="118.5" r="1.3" fill="#40e0d0"/><circle cx="277.4" cy="115.0" r="1.3" fill="#40e0d0"/><circle cx="287.1" cy="79.1" r="1.3" fill="#40e0d0"/><circle cx="287.4" cy="144.8" r="1.3" fill="#40e0d0"/><circle cx="280.4" cy="126.4" r="1.3" fill="#40e0d0"/><circle cx="281.7" cy="122.9" r="1.3" fill="#40e0d0"/><circle cx="289.5" cy="146.7" r="1.3" fill="#40e0d0"/><circle cx="276.2" cy="96.5" r="1.3" fill="#40e0d0"/><circle cx="278.1" cy="115.9" r="1.3" fill="#40e0d0"/><circle cx="278.4" cy="130.7" r="1.3" fill="#40e0d0"/><circle cx="273.2" cy="81.7" r="1.3" fill="#40e0d0"/><circle cx="290.3" cy="74.5" r="1.3" fill="#40e0d0"/><circle cx="295.6" cy="81.4" r="1.3" fill="#40e0d0"/><circle cx="274.4" cy="95.0" r="1.3" fill="#40e0d0"/><circle cx="275.1" cy="94.6" r="1.3" fill="#40e0d0"/><circle cx="282.1" cy="131.6" r="1.3" fill="#40e0d0"/><circle cx="266.2" cy="88.7" r="1.3" fill="#40e0d0"/><circle cx="281.9" cy="131.1" r="1.3" fill="#40e0d0"/><circle cx="266.3" cy="76.6" r="1.3" fill="#40e0d0"/><circle cx="277.4" cy="120.2" r="1.3" fill="#40e0d0"/><circle cx="277.8" cy="82.0" r="1.3" fill="#40e0d0"/><circle cx="267.3" cy="81.0" r="1.3" fill="#40e0d0"/><circle cx="278.2" cy="107.6" r="1.3" fill="#40e0d0"/><circle cx="280.0" cy="124.2" r="1.3" fill="#40e0d0"/><circle cx="293.2" cy="69.7" r="1.3" fill="#40e0d0"/><circle cx="273.3" cy="81.1" r="1.3" fill="#40e0d0"/><circle cx="279.9" cy="73.0" r="1.3" fill="#40e0d0"/><circle cx="280.8" cy="126.2" r="1.3" fill="#40e0d0"/><circle cx="274.3" cy="82.7" r="1.3" fill="#40e0d0"/><circle cx="276.0" cy="85.5" r="1.3" fill="#40e0d0"/><circle cx="274.3" cy="84.2" r="1.3" fill="#40e0d0"/><circle cx="270.7" cy="96.2" r="1.3" fill="#40e0d0"/><circle cx="282.3" cy="126.4" r="1.3" fill="#40e0d0"/><circle cx="281.7" cy="85.2" r="1.3" fill="#40e0d0"/><circle cx="273.3" cy="81.9" r="1.3" fill="#40e0d0"/><circle cx="276.0" cy="101.5" r="1.3" fill="#40e0d0"/><circle cx="277.6" cy="114.6" r="1.3" fill="#40e0d0"/><circle cx="278.9" cy="111.6" r="1.3" fill="#40e0d0"/><circle cx="274.5" cy="121.8" r="1.3" fill="#40e0d0"/><circle cx="285.4" cy="81.2" r="1.3" fill="#40e0d0"/><circle cx="276.0" cy="80.8" r="1.3" fill="#40e0d0"/><circle cx="277.7" cy="88.3" r="1.3" fill="#40e0d0"/><circle cx="283.1" cy="86.7" r="1.3" fill="#40e0d0"/><circle cx="295.9" cy="75.4" r="1.3" fill="#40e0d0"/><circle cx="291.4" cy="81.5" r="1.3" fill="#40e0d0"/><circle cx="269.8" cy="99.4" r="1.3" fill="#40e0d0"/><circle cx="278.6" cy="112.3" r="1.3" fill="#40e0d0"/><circle cx="271.5" cy="110.4" r="1.3" fill="#40e0d0"/><circle cx="287.5" cy="70.2" r="1.3" fill="#40e0d0"/><circle cx="267.2" cy="82.8" r="1.3" fill="#40e0d0"/><circle cx="281.6" cy="129.4" r="1.3" fill="#40e0d0"/><circle cx="278.1" cy="110.4" r="1.3" fill="#40e0d0"/><circle cx="269.7" cy="104.5" r="1.3" fill="#40e0d0"/><circle cx="272.1" cy="80.3" r="1.3" fill="#40e0d0"/><circle cx="290.5" cy="70.3" r="1.3" fill="#40e0d0"/><circle cx="277.2" cy="76.4" r="1.3" fill="#40e0d0"/><circle cx="267.7" cy="80.3" r="1.3" fill="#40e0d0"/><circle cx="268.6" cy="98.7" r="1.3" fill="#40e0d0"/><circle cx="286.1" cy="67.0" r="1.3" fill="#40e0d0"/><circle cx="271.3" cy="80.9" r="1.3" fill="#40e0d0"/><circle cx="295.1" cy="75.4" r="1.3" fill="#40e0d0"/><circle cx="281.7" cy="84.7" r="1.3" fill="#40e0d0"/><circle cx="277.2" cy="116.5" r="1.3" fill="#40e0d0"/><circle cx="272.0" cy="111.2" r="1.3" fill="#40e0d0"/><circle cx="291.5" cy="72.5" r="1.3" fill="#40e0d0"/><circle cx="276.8" cy="102.1" r="1.3" fill="#40e0d0"/><circle cx="282.4" cy="130.8" r="1.3" fill="#40e0d0"/><circle cx="275.3" cy="109.5" r="1.3" fill="#40e0d0"/><circle cx="274.6" cy="102.2" r="1.3" fill="#40e0d0"/><circle cx="275.0" cy="74.7" r="1.3" fill="#40e0d0"/><circle cx="279.6" cy="72.5" r="1.3" fill="#40e0d0"/><circle cx="270.3" cy="92.1" r="1.3" fill="#40e0d0"/><circle cx="265.6" cy="81.5" r="1.3" fill="#40e0d0"/><circle cx="267.8" cy="92.1" r="1.3" fill="#40e0d0"/><circle cx="274.7" cy="80.1" r="1.3" fill="#40e0d0"/><circle cx="276.0" cy="109.7" r="1.3" fill="#40e0d0"/><circle cx="278.1" cy="109.1" r="1.3" fill="#40e0d0"/><circle cx="300.1" cy="119.9" r="1.3" fill="#40e0d0"/><circle cx="278.9" cy="89.6" r="1.3" fill="#40e0d0"/><circle cx="267.3" cy="85.3" r="1.3" fill="#40e0d0"/><circle cx="274.3" cy="106.5" r="1.3" fill="#40e0d0"/><circle cx="284.7" cy="70.0" r="1.3" fill="#40e0d0"/><circle cx="288.4" cy="77.9" r="1.3" fill="#40e0d0"/><circle cx="292.6" cy="80.8" r="1.3" fill="#40e0d0"/><circle cx="274.8" cy="77.0" r="1.3" fill="#40e0d0"/><circle cx="301.5" cy="148.1" r="1.3" fill="#40e0d0"/><circle cx="276.0" cy="67.8" r="1.3" fill="#40e0d0"/><circle cx="284.2" cy="135.8" r="1.3" fill="#40e0d0"/><circle cx="295.6" cy="80.1" r="1.3" fill="#40e0d0"/><circle cx="280.8" cy="78.3" r="1.3" fill="#40e0d0"/><circle cx="276.4" cy="108.4" r="1.3" fill="#40e0d0"/><circle cx="276.2" cy="96.0" r="1.3" fill="#40e0d0"/><circle cx="274.4" cy="76.3" r="1.3" fill="#40e0d0"/><circle cx="287.3" cy="71.8" r="1.3" fill="#40e0d0"/><circle cx="278.0" cy="84.0" r="1.3" fill="#40e0d0"/><circle cx="286.1" cy="78.3" r="1.3" fill="#40e0d0"/><circle cx="278.1" cy="117.5" r="1.3" fill="#40e0d0"/><circle cx="267.3" cy="92.9" r="1.3" fill="#40e0d0"/><circle cx="280.8" cy="123.2" r="1.3" fill="#40e0d0"/><circle cx="286.6" cy="73.1" r="1.3" fill="#40e0d0"/><circle cx="271.2" cy="89.0" r="1.3" fill="#40e0d0"/><circle cx="290.1" cy="73.0" r="1.3" fill="#40e0d0"/><circle cx="276.7" cy="101.1" r="1.3" fill="#40e0d0"/><circle cx="291.8" cy="83.1" r="1.3" fill="#40e0d0"/><circle cx="298.4" cy="99.3" r="1.3" fill="#40e0d0"/><circle cx="270.9" cy="87.0" r="1.3" fill="#40e0d0"/><circle cx="268.4" cy="84.5" r="1.3" fill="#40e0d0"/><circle cx="285.4" cy="86.6" r="1.3" fill="#40e0d0"/><circle cx="287.0" cy="80.7" r="1.3" fill="#40e0d0"/><circle cx="279.0" cy="111.2" r="1.3" fill="#40e0d0"/><circle cx="284.4" cy="138.3" r="1.3" fill="#40e0d0"/><circle cx="295.0" cy="83.0" r="1.3" fill="#40e0d0"/><circle cx="276.2" cy="126.7" r="1.3" fill="#40e0d0"/><circle cx="279.0" cy="82.4" r="1.3" fill="#40e0d0"/><circle cx="285.8" cy="75.0" r="1.3" fill="#40e0d0"/><circle cx="282.3" cy="82.9" r="1.3" fill="#40e0d0"/><circle cx="266.8" cy="89.2" r="1.3" fill="#40e0d0"/><circle cx="280.5" cy="88.0" r="1.3" fill="#40e0d0"/><circle cx="274.4" cy="108.6" r="1.3" fill="#40e0d0"/><circle cx="280.3" cy="133.4" r="1.3" fill="#40e0d0"/><circle cx="278.8" cy="69.9" r="1.3" fill="#40e0d0"/><circle cx="288.2" cy="83.7" r="1.3" fill="#40e0d0"/><circle cx="291.8" cy="78.5" r="1.3" fill="#40e0d0"/><circle cx="290.4" cy="66.2" r="1.3" fill="#40e0d0"/><circle cx="290.4" cy="80.3" r="1.3" fill="#40e0d0"/><circle cx="277.2" cy="85.3" r="1.3" fill="#40e0d0"/><circle cx="275.1" cy="68.1" r="1.3" fill="#40e0d0"/><circle cx="276.9" cy="82.5" r="1.3" fill="#40e0d0"/><circle cx="275.7" cy="105.6" r="1.3" fill="#40e0d0"/><circle cx="280.0" cy="125.6" r="1.3" fill="#40e0d0"/><circle cx="286.7" cy="68.4" r="1.3" fill="#40e0d0"/><circle cx="281.9" cy="87.5" r="1.3" fill="#40e0d0"/><circle cx="271.9" cy="94.2" r="1.3" fill="#40e0d0"/><circle cx="273.3" cy="81.2" r="1.3" fill="#40e0d0"/><circle cx="271.0" cy="108.0" r="1.3" fill="#40e0d0"/><circle cx="277.0" cy="102.1" r="1.3" fill="#40e0d0"/><circle cx="277.9" cy="126.8" r="1.3" fill="#40e0d0"/><circle cx="272.5" cy="85.1" r="1.3" fill="#40e0d0"/><circle cx="271.8" cy="99.1" r="1.3" fill="#40e0d0"/><circle cx="280.5" cy="78.2" r="1.3" fill="#40e0d0"/><circle cx="276.7" cy="91.4" r="1.3" fill="#40e0d0"/><circle cx="294.9" cy="71.9" r="1.3" fill="#40e0d0"/><circle cx="285.1" cy="75.8" r="1.3" fill="#40e0d0"/><circle cx="275.9" cy="121.7" r="1.3" fill="#40e0d0"/><circle cx="277.2" cy="120.8" r="1.3" fill="#40e0d0"/><circle cx="277.1" cy="80.2" r="1.3" fill="#40e0d0"/><circle cx="275.1" cy="106.8" r="1.3" fill="#40e0d0"/><circle cx="280.6" cy="130.4" r="1.3" fill="#40e0d0"/><circle cx="283.5" cy="136.9" r="1.3" fill="#40e0d0"/><circle cx="266.3" cy="97.8" r="1.3" fill="#40e0d0"/><circle cx="289.0" cy="68.4" r="1.3" fill="#40e0d0"/><circle cx="290.3" cy="67.2" r="1.3" fill="#40e0d0"/><circle cx="272.4" cy="115.2" r="1.3" fill="#40e0d0"/><circle cx="274.8" cy="85.6" r="1.3" fill="#40e0d0"/><circle cx="280.4" cy="84.1" r="1.3" fill="#40e0d0"/><circle cx="277.4" cy="116.3" r="1.3" fill="#40e0d0"/><circle cx="282.6" cy="135.7" r="1.3" fill="#40e0d0"/><circle cx="280.8" cy="125.6" r="1.3" fill="#40e0d0"/><circle cx="285.8" cy="66.0" r="1.3" fill="#40e0d0"/><circle cx="276.2" cy="90.6" r="1.3" fill="#40e0d0"/><circle cx="277.9" cy="111.0" r="1.3" fill="#40e0d0"/><circle cx="286.0" cy="86.0" r="1.3" fill="#40e0d0"/><circle cx="269.6" cy="90.0" r="1.3" fill="#40e0d0"/><circle cx="285.9" cy="78.5" r="1.3" fill="#40e0d0"/><circle cx="275.7" cy="76.3" r="1.3" fill="#40e0d0"/><circle cx="274.2" cy="96.9" r="1.3" fill="#40e0d0"/><circle cx="283.2" cy="128.7" r="1.3" fill="#40e0d0"/><circle cx="287.2" cy="85.1" r="1.3" fill="#40e0d0"/><circle cx="282.4" cy="82.3" r="1.3" fill="#40e0d0"/><circle cx="278.4" cy="113.0" r="1.3" fill="#40e0d0"/><circle cx="287.4" cy="76.5" r="1.3" fill="#40e0d0"/><circle cx="282.5" cy="71.0" r="1.3" fill="#40e0d0"/><circle cx="279.8" cy="84.6" r="1.3" fill="#40e0d0"/><circle cx="271.6" cy="103.3" r="1.3" fill="#40e0d0"/><circle cx="283.0" cy="78.9" r="1.3" fill="#40e0d0"/><circle cx="273.6" cy="104.6" r="1.3" fill="#40e0d0"/><circle cx="279.5" cy="116.5" r="1.3" fill="#40e0d0"/><circle cx="281.8" cy="124.6" r="1.3" fill="#40e0d0"/><circle cx="276.1" cy="71.7" r="1.3" fill="#40e0d0"/><circle cx="278.6" cy="87.1" r="1.3" fill="#40e0d0"/><circle cx="284.7" cy="83.1" r="1.3" fill="#40e0d0"/><circle cx="276.3" cy="114.5" r="1.3" fill="#40e0d0"/><circle cx="287.7" cy="79.0" r="1.3" fill="#40e0d0"/><circle cx="290.0" cy="83.9" r="1.3" fill="#40e0d0"/><circle cx="287.7" cy="144.6" r="1.3" fill="#40e0d0"/><circle cx="278.2" cy="125.1" r="1.3" fill="#40e0d0"/><circle cx="284.2" cy="132.2" r="1.3" fill="#40e0d0"/><circle cx="281.6" cy="74.1" r="1.3" fill="#40e0d0"/><circle cx="296.6" cy="79.6" r="1.3" fill="#40e0d0"/><circle cx="292.3" cy="83.1" r="1.3" fill="#40e0d0"/><circle cx="273.5" cy="93.1" r="1.3" fill="#40e0d0"/><circle cx="276.7" cy="91.4" r="1.3" fill="#40e0d0"/><circle cx="290.7" cy="82.3" r="1.3" fill="#40e0d0"/><circle cx="277.0" cy="78.5" r="1.3" fill="#40e0d0"/><circle cx="280.8" cy="76.8" r="1.3" fill="#40e0d0"/><circle cx="284.3" cy="84.1" r="1.3" fill="#40e0d0"/><circle cx="268.3" cy="77.5" r="1.3" fill="#40e0d0"/><circle cx="274.8" cy="89.9" r="1.3" fill="#40e0d0"/><circle cx="289.0" cy="73.4" r="1.3" fill="#40e0d0"/><circle cx="298.0" cy="95.5" r="1.3" fill="#40e0d0"/><circle cx="267.2" cy="76.6" r="1.3" fill="#40e0d0"/><circle cx="273.3" cy="93.4" r="1.3" fill="#40e0d0"/><circle cx="273.9" cy="95.1" r="1.3" fill="#40e0d0"/><circle cx="267.4" cy="89.5" r="1.3" fill="#40e0d0"/><circle cx="270.1" cy="86.1" r="1.3" fill="#40e0d0"/><circle cx="278.2" cy="119.5" r="1.3" fill="#40e0d0"/><circle cx="279.1" cy="116.5" r="1.3" fill="#40e0d0"/><circle cx="283.0" cy="81.4" r="1.3" fill="#40e0d0"/><circle cx="271.5" cy="89.9" r="1.3" fill="#40e0d0"/><circle cx="276.3" cy="84.2" r="1.3" fill="#40e0d0"/><circle cx="281.7" cy="68.6" r="1.3" fill="#40e0d0"/><circle cx="295.1" cy="76.1" r="1.3" fill="#40e0d0"/><circle cx="275.9" cy="118.4" r="1.3" fill="#40e0d0"/><circle cx="292.3" cy="77.2" r="1.3" fill="#40e0d0"/><circle cx="273.6" cy="73.9" r="1.3" fill="#40e0d0"/><circle cx="298.0" cy="93.9" r="1.3" fill="#40e0d0"/><circle cx="279.4" cy="128.5" r="1.3" fill="#40e0d0"/><circle cx="274.7" cy="86.9" r="1.3" fill="#40e0d0"/><circle cx="281.3" cy="79.0" r="1.3" fill="#40e0d0"/>
<circle cx="280.7" cy="26.7" r="1.35" fill="#40e0d0"/><circle cx="271.7" cy="40.7" r="1.35" fill="#40e0d0"/><circle cx="283.5" cy="40.1" r="1.35" fill="#40e0d0"/><circle cx="283.2" cy="44.1" r="1.35" fill="#40e0d0"/><circle cx="285.5" cy="44.1" r="1.35" fill="#40e0d0"/><circle cx="276.0" cy="46.4" r="1.35" fill="#40e0d0"/><circle cx="279.2" cy="47.0" r="1.35" fill="#40e0d0"/><circle cx="277.6" cy="48.6" r="1.35" fill="#40e0d0"/><circle cx="271.1" cy="50.4" r="1.35" fill="#40e0d0"/><circle cx="274.8" cy="51.7" r="1.35" fill="#40e0d0"/><circle cx="278.6" cy="52.4" r="1.35" fill="#40e0d0"/><circle cx="278.2" cy="53.9" r="1.35" fill="#40e0d0"/><circle cx="274.4" cy="54.9" r="1.35" fill="#40e0d0"/><circle cx="289.8" cy="48.9" r="1.35" fill="#40e0d0"/><circle cx="289.8" cy="50.2" r="1.35" fill="#40e0d0"/><circle cx="282.6" cy="53.9" r="1.35" fill="#40e0d0"/><circle cx="284.5" cy="53.7" r="1.35" fill="#40e0d0"/><circle cx="282.4" cy="55.8" r="1.35" fill="#40e0d0"/><circle cx="289.8" cy="54.9" r="1.35" fill="#40e0d0"/><circle cx="274.4" cy="60.2" r="1.35" fill="#40e0d0"/><circle cx="276.1" cy="60.8" r="1.35" fill="#40e0d0"/><circle cx="281.4" cy="61.8" r="1.35" fill="#40e0d0"/><circle cx="283.9" cy="61.5" r="1.35" fill="#40e0d0"/><circle cx="287.0" cy="59.2" r="1.35" fill="#40e0d0"/><circle cx="289.8" cy="62.7" r="1.35" fill="#40e0d0"/><circle cx="293.3" cy="63.3" r="1.35" fill="#40e0d0"/><circle cx="264.8" cy="80.1" r="1.35" fill="#40e0d0"/><circle cx="266.9" cy="85.8" r="1.35" fill="#40e0d0"/><circle cx="265.7" cy="92.7" r="1.35" fill="#40e0d0"/><circle cx="274.4" cy="71.1" r="1.35" fill="#40e0d0"/><circle cx="267.5" cy="82.6" r="1.35" fill="#40e0d0"/><circle cx="271.3" cy="81.4" r="1.35" fill="#40e0d0"/><circle cx="266.9" cy="107.7" r="1.35" fill="#40e0d0"/><circle cx="270.0" cy="115.4" r="1.35" fill="#40e0d0"/><circle cx="273.8" cy="123.1" r="1.35" fill="#40e0d0"/><circle cx="275.4" cy="130.8" r="1.35" fill="#40e0d0"/><circle cx="268.5" cy="98.0" r="1.35" fill="#40e0d0"/><circle cx="267.0" cy="96.0" r="1.35" fill="#40e0d0"/><circle cx="279.0" cy="66.0" r="1.35" fill="#40e0d0"/><circle cx="286.0" cy="65.0" r="1.35" fill="#40e0d0"/><circle cx="290.0" cy="66.0" r="1.35" fill="#40e0d0"/>
<polygon points="313.0,112.0 318.0,110.0 324.0,111.0 330.0,109.0 334.5,112.0 334.5,118.0 333.0,126.0 329.0,137.0 324.0,145.0 321.0,149.8 311.6,149.8 311.8,135.0 312.3,120.0" fill="#ff0000"/>
<circle cx="330.5" cy="100.5" r="1.3" fill="#ff0000"/><circle cx="334.8" cy="93.5" r="1.3" fill="#ff0000"/><circle cx="333.9" cy="123.1" r="1.3" fill="#ff0000"/><circle cx="318.1" cy="97.5" r="1.3" fill="#ff0000"/><circle cx="325.0" cy="88.5" r="1.3" fill="#ff0000"/><circle cx="327.7" cy="91.4" r="1.3" fill="#ff0000"/><circle cx="311.6" cy="137.9" r="1.3" fill="#ff0000"/><circle cx="330.2" cy="105.8" r="1.3" fill="#ff0000"/><circle cx="323.2" cy="92.0" r="1.3" fill="#ff0000"/><circle cx="327.3" cy="105.6" r="1.3" fill="#ff0000"/><circle cx="329.4" cy="99.5" r="1.3" fill="#ff0000"/><circle cx="320.0" cy="97.3" r="1.3" fill="#ff0000"/><circle cx="316.8" cy="100.7" r="1.3" fill="#ff0000"/><circle cx="332.2" cy="91.3" r="1.3" fill="#ff0000"/><circle cx="317.5" cy="98.5" r="1.3" fill="#ff0000"/><circle cx="317.0" cy="110.3" r="1.3" fill="#ff0000"/><circle cx="314.8" cy="108.7" r="1.3" fill="#ff0000"/><circle cx="335.3" cy="115.3" r="1.3" fill="#ff0000"/><circle cx="334.4" cy="88.4" r="1.3" fill="#ff0000"/><circle cx="329.0" cy="86.8" r="1.3" fill="#ff0000"/><circle cx="324.1" cy="109.5" r="1.3" fill="#ff0000"/><circle cx="332.8" cy="90.4" r="1.3" fill="#ff0000"/><circle cx="319.8" cy="106.0" r="1.3" fill="#ff0000"/><circle cx="322.5" cy="148.0" r="1.3" fill="#ff0000"/><circle cx="317.1" cy="99.3" r="1.3" fill="#ff0000"/><circle cx="327.1" cy="97.7" r="1.3" fill="#ff0000"/><circle cx="334.8" cy="104.3" r="1.3" fill="#ff0000"/><circle cx="325.6" cy="88.2" r="1.3" fill="#ff0000"/><circle cx="327.3" cy="101.6" r="1.3" fill="#ff0000"/><circle cx="334.7" cy="116.0" r="1.3" fill="#ff0000"/><circle cx="323.1" cy="103.2" r="1.3" fill="#ff0000"/><circle cx="332.7" cy="89.0" r="1.3" fill="#ff0000"/><circle cx="328.1" cy="94.4" r="1.3" fill="#ff0000"/><circle cx="335.5" cy="107.1" r="1.3" fill="#ff0000"/><circle cx="322.1" cy="95.8" r="1.3" fill="#ff0000"/><circle cx="320.6" cy="101.4" r="1.3" fill="#ff0000"/><circle cx="323.1" cy="91.7" r="1.3" fill="#ff0000"/><circle cx="318.7" cy="97.4" r="1.3" fill="#ff0000"/><circle cx="337.1" cy="106.5" r="1.3" fill="#ff0000"/><circle cx="324.3" cy="91.1" r="1.3" fill="#ff0000"/><circle cx="329.6" cy="102.1" r="1.3" fill="#ff0000"/><circle cx="335.0" cy="97.7" r="1.3" fill="#ff0000"/><circle cx="326.4" cy="100.4" r="1.3" fill="#ff0000"/><circle cx="335.6" cy="98.7" r="1.3" fill="#ff0000"/><circle cx="329.7" cy="90.0" r="1.3" fill="#ff0000"/><circle cx="319.4" cy="101.0" r="1.3" fill="#ff0000"/><circle cx="336.8" cy="111.3" r="1.3" fill="#ff0000"/><circle cx="319.3" cy="109.3" r="1.3" fill="#ff0000"/><circle cx="318.7" cy="95.0" r="1.3" fill="#ff0000"/><circle cx="325.5" cy="90.5" r="1.3" fill="#ff0000"/><circle cx="320.3" cy="96.1" r="1.3" fill="#ff0000"/><circle cx="335.8" cy="101.2" r="1.3" fill="#ff0000"/><circle cx="335.4" cy="108.8" r="1.3" fill="#ff0000"/><circle cx="321.3" cy="108.5" r="1.3" fill="#ff0000"/><circle cx="317.9" cy="109.3" r="1.3" fill="#ff0000"/><circle cx="326.1" cy="107.7" r="1.3" fill="#ff0000"/><circle cx="334.0" cy="111.0" r="1.3" fill="#ff0000"/><circle cx="334.0" cy="122.0" r="1.3" fill="#ff0000"/><circle cx="332.0" cy="100.1" r="1.3" fill="#ff0000"/><circle cx="327.0" cy="97.2" r="1.3" fill="#ff0000"/><circle cx="335.3" cy="106.3" r="1.3" fill="#ff0000"/><circle cx="326.9" cy="92.5" r="1.3" fill="#ff0000"/><circle cx="328.0" cy="106.4" r="1.3" fill="#ff0000"/><circle cx="331.4" cy="100.8" r="1.3" fill="#ff0000"/><circle cx="315.9" cy="106.4" r="1.3" fill="#ff0000"/><circle cx="328.5" cy="102.3" r="1.3" fill="#ff0000"/><circle cx="318.7" cy="95.0" r="1.3" fill="#ff0000"/><circle cx="335.6" cy="115.9" r="1.3" fill="#ff0000"/><circle cx="328.1" cy="98.4" r="1.3" fill="#ff0000"/><circle cx="330.7" cy="99.4" r="1.3" fill="#ff0000"/><circle cx="320.2" cy="108.1" r="1.3" fill="#ff0000"/><circle cx="328.5" cy="94.2" r="1.3" fill="#ff0000"/><circle cx="331.4" cy="91.2" r="1.3" fill="#ff0000"/><circle cx="321.4" cy="98.3" r="1.3" fill="#ff0000"/><circle cx="323.4" cy="100.5" r="1.3" fill="#ff0000"/><circle cx="330.8" cy="95.6" r="1.3" fill="#ff0000"/><circle cx="332.6" cy="96.3" r="1.3" fill="#ff0000"/><circle cx="326.1" cy="105.0" r="1.3" fill="#ff0000"/><circle cx="318.6" cy="103.8" r="1.3" fill="#ff0000"/><circle cx="318.5" cy="105.7" r="1.3" fill="#ff0000"/><circle cx="336.3" cy="105.9" r="1.3" fill="#ff0000"/><circle cx="317.4" cy="109.0" r="1.3" fill="#ff0000"/><circle cx="316.6" cy="103.1" r="1.3" fill="#ff0000"/><circle cx="337.1" cy="102.2" r="1.3" fill="#ff0000"/><circle cx="319.5" cy="108.6" r="1.3" fill="#ff0000"/><circle cx="319.0" cy="108.4" r="1.3" fill="#ff0000"/><circle cx="333.4" cy="106.4" r="1.3" fill="#ff0000"/><circle cx="330.8" cy="108.1" r="1.3" fill="#ff0000"/><circle cx="325.5" cy="107.9" r="1.3" fill="#ff0000"/><circle cx="334.7" cy="124.0" r="1.3" fill="#ff0000"/><circle cx="319.8" cy="107.7" r="1.3" fill="#ff0000"/><circle cx="323.9" cy="93.3" r="1.3" fill="#ff0000"/><circle cx="336.9" cy="99.8" r="1.3" fill="#ff0000"/><circle cx="319.8" cy="102.1" r="1.3" fill="#ff0000"/><circle cx="318.5" cy="99.4" r="1.3" fill="#ff0000"/><circle cx="321.6" cy="149.0" r="1.3" fill="#ff0000"/><circle cx="335.9" cy="104.8" r="1.3" fill="#ff0000"/><circle cx="334.6" cy="118.9" r="1.3" fill="#ff0000"/><circle cx="317.6" cy="106.2" r="1.3" fill="#ff0000"/><circle cx="333.8" cy="102.5" r="1.3" fill="#ff0000"/><circle cx="322.1" cy="100.9" r="1.3" fill="#ff0000"/><circle cx="332.8" cy="88.4" r="1.3" fill="#ff0000"/><circle cx="335.3" cy="101.3" r="1.3" fill="#ff0000"/><circle cx="324.8" cy="108.4" r="1.3" fill="#ff0000"/><circle cx="331.3" cy="107.7" r="1.3" fill="#ff0000"/><circle cx="322.1" cy="95.4" r="1.3" fill="#ff0000"/><circle cx="317.7" cy="109.3" r="1.3" fill="#ff0000"/><circle cx="324.6" cy="91.6" r="1.3" fill="#ff0000"/><circle cx="334.6" cy="114.5" r="1.3" fill="#ff0000"/><circle cx="316.1" cy="104.4" r="1.3" fill="#ff0000"/><circle cx="330.9" cy="90.3" r="1.3" fill="#ff0000"/><circle cx="328.5" cy="93.4" r="1.3" fill="#ff0000"/><circle cx="325.7" cy="91.0" r="1.3" fill="#ff0000"/><circle cx="327.5" cy="91.3" r="1.3" fill="#ff0000"/><circle cx="328.7" cy="109.1" r="1.3" fill="#ff0000"/><circle cx="324.7" cy="93.6" r="1.3" fill="#ff0000"/><circle cx="324.4" cy="89.6" r="1.3" fill="#ff0000"/><circle cx="314.1" cy="109.7" r="1.3" fill="#ff0000"/><circle cx="321.3" cy="91.4" r="1.3" fill="#ff0000"/><circle cx="326.6" cy="98.2" r="1.3" fill="#ff0000"/><circle cx="331.3" cy="98.0" r="1.3" fill="#ff0000"/><circle cx="335.1" cy="101.2" r="1.3" fill="#ff0000"/><circle cx="322.4" cy="108.1" r="1.3" fill="#ff0000"/><circle cx="334.5" cy="92.5" r="1.3" fill="#ff0000"/><circle cx="332.7" cy="92.1" r="1.3" fill="#ff0000"/><circle cx="325.6" cy="97.3" r="1.3" fill="#ff0000"/><circle cx="316.8" cy="99.6" r="1.3" fill="#ff0000"/><circle cx="323.5" cy="108.0" r="1.3" fill="#ff0000"/><circle cx="317.2" cy="106.0" r="1.3" fill="#ff0000"/><circle cx="325.8" cy="106.9" r="1.3" fill="#ff0000"/><circle cx="311.6" cy="137.9" r="1.3" fill="#ff0000"/><circle cx="333.9" cy="89.7" r="1.3" fill="#ff0000"/><circle cx="319.4" cy="96.1" r="1.3" fill="#ff0000"/><circle cx="317.4" cy="104.8" r="1.3" fill="#ff0000"/><circle cx="330.3" cy="104.0" r="1.3" fill="#ff0000"/><circle cx="336.7" cy="112.1" r="1.3" fill="#ff0000"/><circle cx="325.8" cy="106.9" r="1.3" fill="#ff0000"/><circle cx="325.2" cy="97.8" r="1.3" fill="#ff0000"/><circle cx="324.3" cy="110.6" r="1.3" fill="#ff0000"/><circle cx="312.5" cy="115.6" r="1.3" fill="#ff0000"/><circle cx="327.9" cy="108.6" r="1.3" fill="#ff0000"/><circle cx="319.4" cy="92.8" r="1.3" fill="#ff0000"/><circle cx="328.2" cy="103.0" r="1.3" fill="#ff0000"/><circle cx="321.7" cy="93.7" r="1.3" fill="#ff0000"/><circle cx="330.0" cy="106.8" r="1.3" fill="#ff0000"/><circle cx="336.8" cy="111.7" r="1.3" fill="#ff0000"/><circle cx="318.8" cy="94.7" r="1.3" fill="#ff0000"/><circle cx="326.2" cy="106.6" r="1.3" fill="#ff0000"/><circle cx="332.1" cy="98.3" r="1.3" fill="#ff0000"/><circle cx="333.9" cy="91.2" r="1.3" fill="#ff0000"/><circle cx="328.9" cy="108.1" r="1.3" fill="#ff0000"/><circle cx="318.4" cy="106.4" r="1.3" fill="#ff0000"/><circle cx="329.6" cy="95.0" r="1.3" fill="#ff0000"/><circle cx="335.7" cy="109.8" r="1.3" fill="#ff0000"/><circle cx="334.5" cy="121.5" r="1.3" fill="#ff0000"/><circle cx="327.1" cy="96.6" r="1.3" fill="#ff0000"/><circle cx="331.6" cy="87.4" r="1.3" fill="#ff0000"/><circle cx="326.1" cy="96.8" r="1.3" fill="#ff0000"/><circle cx="328.7" cy="86.8" r="1.3" fill="#ff0000"/><circle cx="334.5" cy="101.7" r="1.3" fill="#ff0000"/><circle cx="322.5" cy="101.2" r="1.3" fill="#ff0000"/><circle cx="318.9" cy="106.5" r="1.3" fill="#ff0000"/><circle cx="329.2" cy="90.8" r="1.3" fill="#ff0000"/><circle cx="332.0" cy="87.3" r="1.3" fill="#ff0000"/><circle cx="331.6" cy="102.0" r="1.3" fill="#ff0000"/><circle cx="327.6" cy="94.6" r="1.3" fill="#ff0000"/><circle cx="321.8" cy="149.4" r="1.3" fill="#ff0000"/><circle cx="333.5" cy="94.5" r="1.3" fill="#ff0000"/><circle cx="317.3" cy="101.9" r="1.3" fill="#ff0000"/><circle cx="332.0" cy="96.2" r="1.3" fill="#ff0000"/><circle cx="335.7" cy="108.9" r="1.3" fill="#ff0000"/><circle cx="336.4" cy="98.8" r="1.3" fill="#ff0000"/><circle cx="333.6" cy="106.0" r="1.3" fill="#ff0000"/><circle cx="313.7" cy="108.3" r="1.3" fill="#ff0000"/><circle cx="323.8" cy="96.3" r="1.3" fill="#ff0000"/><circle cx="327.3" cy="105.8" r="1.3" fill="#ff0000"/><circle cx="322.0" cy="107.0" r="1.3" fill="#ff0000"/><circle cx="326.7" cy="100.9" r="1.3" fill="#ff0000"/><circle cx="319.2" cy="110.0" r="1.3" fill="#ff0000"/><circle cx="319.5" cy="103.5" r="1.3" fill="#ff0000"/><circle cx="335.1" cy="112.5" r="1.3" fill="#ff0000"/><circle cx="328.6" cy="96.2" r="1.3" fill="#ff0000"/><circle cx="334.3" cy="105.4" r="1.3" fill="#ff0000"/><circle cx="333.5" cy="97.3" r="1.3" fill="#ff0000"/><circle cx="325.4" cy="105.1" r="1.3" fill="#ff0000"/><circle cx="335.0" cy="120.2" r="1.3" fill="#ff0000"/><circle cx="322.9" cy="101.4" r="1.3" fill="#ff0000"/><circle cx="336.7" cy="98.0" r="1.3" fill="#ff0000"/><circle cx="327.2" cy="95.0" r="1.3" fill="#ff0000"/><circle cx="323.0" cy="98.3" r="1.3" fill="#ff0000"/><circle cx="325.8" cy="98.6" r="1.3" fill="#ff0000"/><circle cx="329.0" cy="105.8" r="1.3" fill="#ff0000"/><circle cx="331.1" cy="94.4" r="1.3" fill="#ff0000"/><circle cx="327.1" cy="106.0" r="1.3" fill="#ff0000"/><circle cx="328.0" cy="102.8" r="1.3" fill="#ff0000"/><circle cx="330.4" cy="104.5" r="1.3" fill="#ff0000"/><circle cx="334.1" cy="105.8" r="1.3" fill="#ff0000"/><circle cx="320.7" cy="96.6" r="1.3" fill="#ff0000"/><circle cx="335.6" cy="107.7" r="1.3" fill="#ff0000"/><circle cx="330.2" cy="108.0" r="1.3" fill="#ff0000"/><circle cx="335.3" cy="117.6" r="1.3" fill="#ff0000"/><circle cx="335.7" cy="108.7" r="1.3" fill="#ff0000"/><circle cx="321.3" cy="93.8" r="1.3" fill="#ff0000"/><circle cx="326.3" cy="96.4" r="1.3" fill="#ff0000"/><circle cx="325.7" cy="106.5" r="1.3" fill="#ff0000"/><circle cx="331.1" cy="95.3" r="1.3" fill="#ff0000"/><circle cx="324.8" cy="104.2" r="1.3" fill="#ff0000"/><circle cx="325.7" cy="102.5" r="1.3" fill="#ff0000"/><circle cx="326.7" cy="95.7" r="1.3" fill="#ff0000"/><circle cx="319.6" cy="95.8" r="1.3" fill="#ff0000"/><circle cx="337.2" cy="106.2" r="1.3" fill="#ff0000"/><circle cx="333.6" cy="101.2" r="1.3" fill="#ff0000"/><circle cx="335.4" cy="110.0" r="1.3" fill="#ff0000"/><circle cx="311.5" cy="137.5" r="1.3" fill="#ff0000"/><circle cx="322.9" cy="147.4" r="1.3" fill="#ff0000"/><circle cx="327.1" cy="140.1" r="1.3" fill="#ff0000"/><circle cx="327.5" cy="109.1" r="1.3" fill="#ff0000"/><circle cx="326.9" cy="90.5" r="1.3" fill="#ff0000"/><circle cx="325.9" cy="98.7" r="1.3" fill="#ff0000"/><circle cx="317.0" cy="105.9" r="1.3" fill="#ff0000"/><circle cx="324.5" cy="104.4" r="1.3" fill="#ff0000"/>
<circle cx="338.2" cy="92.4" r="1.3" fill="#ff0000"/><circle cx="339.7" cy="135.1" r="1.3" fill="#ff0000"/><circle cx="341.8" cy="116.4" r="1.3" fill="#ff0000"/><circle cx="341.1" cy="113.5" r="1.3" fill="#ff0000"/><circle cx="338.2" cy="121.4" r="1.3" fill="#ff0000"/><circle cx="325.7" cy="145.6" r="1.3" fill="#ff0000"/><circle cx="340.1" cy="97.7" r="1.3" fill="#ff0000"/><circle cx="326.9" cy="86.1" r="1.3" fill="#ff0000"/><circle cx="345.2" cy="100.5" r="1.3" fill="#ff0000"/><circle cx="338.9" cy="102.8" r="1.3" fill="#ff0000"/><circle cx="325.7" cy="78.7" r="1.3" fill="#ff0000"/><circle cx="340.5" cy="112.8" r="1.3" fill="#ff0000"/><circle cx="341.9" cy="86.5" r="1.3" fill="#ff0000"/><circle cx="328.6" cy="82.9" r="1.3" fill="#ff0000"/><circle cx="334.8" cy="80.5" r="1.3" fill="#ff0000"/><circle cx="330.6" cy="140.8" r="1.3" fill="#ff0000"/><circle cx="341.7" cy="120.9" r="1.3" fill="#ff0000"/><circle cx="327.7" cy="143.3" r="1.3" fill="#ff0000"/><circle cx="334.2" cy="125.8" r="1.3" fill="#ff0000"/><circle cx="333.0" cy="137.3" r="1.3" fill="#ff0000"/><circle cx="342.9" cy="127.9" r="1.3" fill="#ff0000"/><circle cx="342.9" cy="105.5" r="1.3" fill="#ff0000"/><circle cx="340.1" cy="96.9" r="1.3" fill="#ff0000"/><circle cx="344.8" cy="122.0" r="1.3" fill="#ff0000"/><circle cx="335.7" cy="129.4" r="1.3" fill="#ff0000"/><circle cx="341.0" cy="111.7" r="1.3" fill="#ff0000"/><circle cx="335.3" cy="139.6" r="1.3" fill="#ff0000"/><circle cx="340.6" cy="119.3" r="1.3" fill="#ff0000"/><circle cx="333.1" cy="143.3" r="1.3" fill="#ff0000"/><circle cx="342.8" cy="122.1" r="1.3" fill="#ff0000"/><circle cx="334.4" cy="127.6" r="1.3" fill="#ff0000"/><circle cx="340.4" cy="113.6" r="1.3" fill="#ff0000"/><circle cx="340.0" cy="98.0" r="1.3" fill="#ff0000"/><circle cx="332.5" cy="78.5" r="1.3" fill="#ff0000"/><circle cx="339.0" cy="128.0" r="1.3" fill="#ff0000"/><circle cx="340.9" cy="99.7" r="1.3" fill="#ff0000"/><circle cx="322.8" cy="148.5" r="1.3" fill="#ff0000"/><circle cx="324.1" cy="149.1" r="1.3" fill="#ff0000"/><circle cx="341.0" cy="83.7" r="1.3" fill="#ff0000"/><circle cx="340.8" cy="132.0" r="1.3" fill="#ff0000"/><circle cx="328.8" cy="79.1" r="1.3" fill="#ff0000"/><circle cx="327.0" cy="86.1" r="1.3" fill="#ff0000"/><circle cx="338.9" cy="130.0" r="1.3" fill="#ff0000"/><circle cx="330.9" cy="142.0" r="1.3" fill="#ff0000"/><circle cx="345.6" cy="114.9" r="1.3" fill="#ff0000"/><circle cx="339.5" cy="86.2" r="1.3" fill="#ff0000"/><circle cx="344.2" cy="95.0" r="1.3" fill="#ff0000"/><circle cx="328.0" cy="139.9" r="1.3" fill="#ff0000"/><circle cx="342.5" cy="97.2" r="1.3" fill="#ff0000"/><circle cx="326.2" cy="82.8" r="1.3" fill="#ff0000"/><circle cx="335.5" cy="80.8" r="1.3" fill="#ff0000"/><circle cx="338.1" cy="99.9" r="1.3" fill="#ff0000"/><circle cx="338.0" cy="114.7" r="1.3" fill="#ff0000"/><circle cx="311.4" cy="140.0" r="1.3" fill="#ff0000"/><circle cx="345.3" cy="105.0" r="1.3" fill="#ff0000"/><circle cx="325.1" cy="82.4" r="1.3" fill="#ff0000"/><circle cx="321.3" cy="85.3" r="1.3" fill="#ff0000"/><circle cx="340.5" cy="128.5" r="1.3" fill="#ff0000"/><circle cx="343.8" cy="97.0" r="1.3" fill="#ff0000"/><circle cx="328.1" cy="140.7" r="1.3" fill="#ff0000"/><circle cx="311.6" cy="127.6" r="1.3" fill="#ff0000"/><circle cx="321.1" cy="86.4" r="1.3" fill="#ff0000"/><circle cx="337.4" cy="125.4" r="1.3" fill="#ff0000"/><circle cx="341.9" cy="98.5" r="1.3" fill="#ff0000"/><circle cx="340.1" cy="132.9" r="1.3" fill="#ff0000"/><circle cx="342.2" cy="104.4" r="1.3" fill="#ff0000"/><circle cx="329.8" cy="139.1" r="1.3" fill="#ff0000"/><circle cx="331.1" cy="141.0" r="1.3" fill="#ff0000"/><circle cx="342.4" cy="115.9" r="1.3" fill="#ff0000"/><circle cx="322.0" cy="81.9" r="1.3" fill="#ff0000"/><circle cx="338.2" cy="100.6" r="1.3" fill="#ff0000"/><circle cx="340.2" cy="109.2" r="1.3" fill="#ff0000"/><circle cx="339.6" cy="111.8" r="1.3" fill="#ff0000"/><circle cx="338.4" cy="85.4" r="1.3" fill="#ff0000"/><circle cx="324.9" cy="85.5" r="1.3" fill="#ff0000"/><circle cx="342.2" cy="122.8" r="1.3" fill="#ff0000"/><circle cx="338.7" cy="114.5" r="1.3" fill="#ff0000"/><circle cx="341.5" cy="127.5" r="1.3" fill="#ff0000"/><circle cx="334.7" cy="127.1" r="1.3" fill="#ff0000"/><circle cx="337.9" cy="100.7" r="1.3" fill="#ff0000"/><circle cx="341.1" cy="101.6" r="1.3" fill="#ff0000"/><circle cx="328.3" cy="85.3" r="1.3" fill="#ff0000"/><circle cx="340.1" cy="123.9" r="1.3" fill="#ff0000"/><circle cx="336.9" cy="130.0" r="1.3" fill="#ff0000"/><circle cx="337.3" cy="136.7" r="1.3" fill="#ff0000"/><circle cx="331.5" cy="140.7" r="1.3" fill="#ff0000"/><circle cx="334.3" cy="80.3" r="1.3" fill="#ff0000"/><circle cx="334.1" cy="80.4" r="1.3" fill="#ff0000"/><circle cx="341.1" cy="112.2" r="1.3" fill="#ff0000"/><circle cx="337.0" cy="95.4" r="1.3" fill="#ff0000"/><circle cx="337.4" cy="109.0" r="1.3" fill="#ff0000"/><circle cx="334.5" cy="135.5" r="1.3" fill="#ff0000"/><circle cx="337.9" cy="95.5" r="1.3" fill="#ff0000"/><circle cx="333.4" cy="134.0" r="1.3" fill="#ff0000"/><circle cx="342.9" cy="97.9" r="1.3" fill="#ff0000"/><circle cx="337.9" cy="91.5" r="1.3" fill="#ff0000"/><circle cx="339.1" cy="100.5" r="1.3" fill="#ff0000"/><circle cx="342.3" cy="105.3" r="1.3" fill="#ff0000"/><circle cx="340.0" cy="87.6" r="1.3" fill="#ff0000"/><circle cx="342.1" cy="93.5" r="1.3" fill="#ff0000"/><circle cx="337.6" cy="123.2" r="1.3" fill="#ff0000"/><circle cx="323.9" cy="148.1" r="1.3" fill="#ff0000"/><circle cx="334.7" cy="133.4" r="1.3" fill="#ff0000"/><circle cx="340.5" cy="115.4" r="1.3" fill="#ff0000"/><circle cx="337.4" cy="89.8" r="1.3" fill="#ff0000"/><circle cx="335.5" cy="122.6" r="1.3" fill="#ff0000"/><circle cx="339.5" cy="96.0" r="1.3" fill="#ff0000"/><circle cx="336.4" cy="93.6" r="1.3" fill="#ff0000"/><circle cx="331.6" cy="132.1" r="1.3" fill="#ff0000"/><circle cx="329.9" cy="83.5" r="1.3" fill="#ff0000"/><circle cx="334.7" cy="126.2" r="1.3" fill="#ff0000"/><circle cx="320.9" cy="83.3" r="1.3" fill="#ff0000"/><circle cx="328.0" cy="142.0" r="1.3" fill="#ff0000"/><circle cx="338.8" cy="113.2" r="1.3" fill="#ff0000"/><circle cx="339.4" cy="125.2" r="1.3" fill="#ff0000"/><circle cx="338.3" cy="90.7" r="1.3" fill="#ff0000"/><circle cx="341.9" cy="114.8" r="1.3" fill="#ff0000"/><circle cx="341.4" cy="98.5" r="1.3" fill="#ff0000"/>
<circle cx="347.2" cy="17.3" r="1.35" fill="#ff0000"/><circle cx="362.1" cy="33.6" r="1.35" fill="#ff0000"/><circle cx="352.7" cy="43.6" r="1.35" fill="#ff0000"/><circle cx="336.9" cy="49.4" r="1.35" fill="#ff0000"/><circle cx="357.2" cy="47.7" r="1.35" fill="#ff0000"/><circle cx="372.1" cy="51.2" r="1.35" fill="#ff0000"/><circle cx="366.3" cy="55.3" r="1.35" fill="#ff0000"/><circle cx="344.5" cy="62.6" r="1.35" fill="#ff0000"/><circle cx="369.4" cy="75.2" r="1.35" fill="#ff0000"/><circle cx="371.3" cy="74.4" r="1.35" fill="#ff0000"/><circle cx="386.4" cy="79.7" r="1.35" fill="#ff0000"/><circle cx="342.9" cy="79.1" r="1.35" fill="#ff0000"/><circle cx="345.5" cy="77.7" r="1.35" fill="#ff0000"/><circle cx="350.8" cy="76.7" r="1.35" fill="#ff0000"/><circle cx="350.8" cy="79.1" r="1.35" fill="#ff0000"/><circle cx="355.7" cy="79.1" r="1.35" fill="#ff0000"/><circle cx="358.6" cy="77.7" r="1.35" fill="#ff0000"/><circle cx="362.1" cy="79.7" r="1.35" fill="#ff0000"/><circle cx="367.4" cy="80.7" r="1.35" fill="#ff0000"/><circle cx="350.8" cy="84.6" r="1.35" fill="#ff0000"/><circle cx="356.6" cy="87.5" r="1.35" fill="#ff0000"/><circle cx="350.8" cy="88.9" r="1.35" fill="#ff0000"/><circle cx="356.2" cy="94.8" r="1.35" fill="#ff0000"/><circle cx="346.9" cy="101.2" r="1.35" fill="#ff0000"/><circle cx="352.7" cy="104.5" r="1.35" fill="#ff0000"/><circle cx="358.2" cy="102.2" r="1.35" fill="#ff0000"/><circle cx="361.5" cy="103.2" r="1.35" fill="#ff0000"/><circle cx="366.8" cy="102.2" r="1.35" fill="#ff0000"/><circle cx="361.1" cy="106.1" r="1.35" fill="#ff0000"/><circle cx="376.2" cy="107.5" r="1.35" fill="#ff0000"/><circle cx="353.3" cy="111.6" r="1.35" fill="#ff0000"/><circle cx="355.3" cy="115.5" r="1.35" fill="#ff0000"/><circle cx="345.9" cy="116.3" r="1.35" fill="#ff0000"/><circle cx="348.8" cy="117.5" r="1.35" fill="#ff0000"/><circle cx="351.7" cy="121.8" r="1.35" fill="#ff0000"/><circle cx="364.1" cy="122.8" r="1.35" fill="#ff0000"/><circle cx="361.9" cy="125.7" r="1.35" fill="#ff0000"/><circle cx="356.2" cy="128.6" r="1.35" fill="#ff0000"/><circle cx="347.4" cy="133.9" r="1.35" fill="#ff0000"/><circle cx="323.6" cy="75.0" r="1.35" fill="#ff0000"/><circle cx="327.9" cy="74.4" r="1.35" fill="#ff0000"/><circle cx="330.2" cy="77.8" r="1.35" fill="#ff0000"/><circle cx="335.2" cy="78.2" r="1.35" fill="#ff0000"/><circle cx="332.7" cy="79.4" r="1.35" fill="#ff0000"/><circle cx="328.9" cy="82.6" r="1.35" fill="#ff0000"/><circle cx="332.7" cy="83.8" r="1.35" fill="#ff0000"/><circle cx="323.3" cy="86.4" r="1.35" fill="#ff0000"/><circle cx="339.0" cy="85.1" r="1.35" fill="#ff0000"/><circle cx="322.0" cy="90.1" r="1.35" fill="#ff0000"/><circle cx="341.5" cy="122.6" r="1.35" fill="#ff0000"/><circle cx="351.6" cy="122.0" r="1.35" fill="#ff0000"/><circle cx="342.8" cy="128.2" r="1.35" fill="#ff0000"/><circle cx="356.0" cy="128.9" r="1.35" fill="#ff0000"/><circle cx="347.2" cy="134.7" r="1.35" fill="#ff0000"/><circle cx="337.5" cy="139.5" r="1.35" fill="#ff0000"/><circle cx="335.2" cy="143.0" r="1.35" fill="#ff0000"/><circle cx="349.0" cy="116.3" r="1.35" fill="#ff0000"/><circle cx="326.0" cy="84.0" r="1.35" fill="#ff0000"/><circle cx="330.0" cy="87.0" r="1.35" fill="#ff0000"/><circle cx="336.0" cy="88.0" r="1.35" fill="#ff0000"/><circle cx="340.0" cy="82.0" r="1.35" fill="#ff0000"/><circle cx="344.0" cy="86.0" r="1.35" fill="#ff0000"/><circle cx="338.0" cy="80.5" r="1.35" fill="#ff0000"/>
<line x1="46.40" y1="149.00" x2="198.60" y2="149.00" stroke="#888" stroke-width="1.3"/>
<rect x="46.40" y="14.60" width="152.20" height="140.90" fill="none" stroke="#666" stroke-width="1.2"/>
<line x1="41.20" y1="149.90" x2="46.40" y2="149.90" stroke="#666" stroke-width="1.1"/>
<text x="33.90" y="149.90" font-size="8.6" text-anchor="middle" fill="#000" transform="rotate(-90 33.90 149.90)" stroke="#000" stroke-width="0.15">0</text>
<line x1="41.20" y1="128.24" x2="46.40" y2="128.24" stroke="#666" stroke-width="1.1"/>
<text x="33.90" y="128.24" font-size="8.6" text-anchor="middle" fill="#000" transform="rotate(-90 33.90 128.24)" stroke="#000" stroke-width="0.15">20</text>
<line x1="41.20" y1="106.58" x2="46.40" y2="106.58" stroke="#666" stroke-width="1.1"/>
<text x="33.90" y="106.58" font-size="8.6" text-anchor="middle" fill="#000" transform="rotate(-90 33.90 106.58)" stroke="#000" stroke-width="0.15">40</text>
<line x1="41.20" y1="84.92" x2="46.40" y2="84.92" stroke="#666" stroke-width="1.1"/>
<text x="33.90" y="84.92" font-size="8.6" text-anchor="middle" fill="#000" transform="rotate(-90 33.90 84.92)" stroke="#000" stroke-width="0.15">60</text>
<line x1="41.20" y1="63.26" x2="46.40" y2="63.26" stroke="#666" stroke-width="1.1"/>
<text x="33.90" y="63.26" font-size="8.6" text-anchor="middle" fill="#000" transform="rotate(-90 33.90 63.26)" stroke="#000" stroke-width="0.15">80</text>
<line x1="41.20" y1="41.60" x2="46.40" y2="41.60" stroke="#666" stroke-width="1.1"/>
<text x="33.90" y="41.60" font-size="8.6" text-anchor="middle" fill="#000" transform="rotate(-90 33.90 41.60)" stroke="#000" stroke-width="0.15">100</text>
<line x1="41.20" y1="19.94" x2="46.40" y2="19.94" stroke="#666" stroke-width="1.1"/>
<text x="33.90" y="19.94" font-size="8.6" text-anchor="middle" fill="#000" transform="rotate(-90 33.90 19.94)" stroke="#000" stroke-width="0.15">120</text>
<line x1="52.12" y1="155.50" x2="52.12" y2="160.70" stroke="#666" stroke-width="1.1"/>
<text x="51.62" y="174.00" font-size="8.6" text-anchor="middle" fill="#000" stroke="#000" stroke-width="0.15">-4</text>
<line x1="75.66" y1="155.50" x2="75.66" y2="160.70" stroke="#666" stroke-width="1.1"/>
<text x="75.16" y="174.00" font-size="8.6" text-anchor="middle" fill="#000" stroke="#000" stroke-width="0.15">-2</text>
<line x1="99.20" y1="155.50" x2="99.20" y2="160.70" stroke="#666" stroke-width="1.1"/>
<text x="98.70" y="174.00" font-size="8.6" text-anchor="middle" fill="#000" stroke="#000" stroke-width="0.15">0</text>
<line x1="122.74" y1="155.50" x2="122.74" y2="160.70" stroke="#666" stroke-width="1.1"/>
<text x="122.24" y="174.00" font-size="8.6" text-anchor="middle" fill="#000" stroke="#000" stroke-width="0.15">2</text>
<line x1="146.28" y1="155.50" x2="146.28" y2="160.70" stroke="#666" stroke-width="1.1"/>
<text x="145.78" y="174.00" font-size="8.6" text-anchor="middle" fill="#000" stroke="#000" stroke-width="0.15">4</text>
<line x1="169.82" y1="155.50" x2="169.82" y2="160.70" stroke="#666" stroke-width="1.1"/>
<text x="169.32" y="174.00" font-size="8.6" text-anchor="middle" fill="#000" stroke="#000" stroke-width="0.15">6</text>
<line x1="193.36" y1="155.50" x2="193.36" y2="160.70" stroke="#666" stroke-width="1.1"/>
<text x="192.86" y="174.00" font-size="8.6" text-anchor="middle" fill="#000" stroke="#000" stroke-width="0.15">8</text>
<text x="19.30" y="78.65" font-size="11" text-anchor="middle" fill="#000" stroke="#000" stroke-width="0.18" transform="rotate(-90 19.30 78.65)" >-log10 (BH) p</text>
<text x="122.00" y="188.60" font-size="11" text-anchor="middle" fill="#000" stroke="#000" stroke-width="0.18" >log2 FC</text>
<text x="118.20" y="9.90" font-size="11" text-anchor="middle" fill="#000" stroke="#000" stroke-width="0.18" >diabetes mellitus</text>
<line x1="254.00" y1="149.00" x2="406.20" y2="149.00" stroke="#888" stroke-width="1.3"/>
<rect x="254.00" y="14.60" width="152.20" height="140.90" fill="none" stroke="#666" stroke-width="1.2"/>
<line x1="248.80" y1="149.90" x2="254.00" y2="149.90" stroke="#666" stroke-width="1.1"/>
<text x="241.50" y="149.90" font-size="8.6" text-anchor="middle" fill="#000" transform="rotate(-90 241.50 149.90)" stroke="#000" stroke-width="0.15">0</text>
<line x1="248.80" y1="128.24" x2="254.00" y2="128.24" stroke="#666" stroke-width="1.1"/>
<text x="241.50" y="128.24" font-size="8.6" text-anchor="middle" fill="#000" transform="rotate(-90 241.50 128.24)" stroke="#000" stroke-width="0.15">20</text>
<line x1="248.80" y1="106.58" x2="254.00" y2="106.58" stroke="#666" stroke-width="1.1"/>
<text x="241.50" y="106.58" font-size="8.6" text-anchor="middle" fill="#000" transform="rotate(-90 241.50 106.58)" stroke="#000" stroke-width="0.15">40</text>
<line x1="248.80" y1="84.92" x2="254.00" y2="84.92" stroke="#666" stroke-width="1.1"/>
<text x="241.50" y="84.92" font-size="8.6" text-anchor="middle" fill="#000" transform="rotate(-90 241.50 84.92)" stroke="#000" stroke-width="0.15">60</text>
<line x1="248.80" y1="63.26" x2="254.00" y2="63.26" stroke="#666" stroke-width="1.1"/>
<text x="241.50" y="63.26" font-size="8.6" text-anchor="middle" fill="#000" transform="rotate(-90 241.50 63.26)" stroke="#000" stroke-width="0.15">80</text>
<line x1="248.80" y1="41.60" x2="254.00" y2="41.60" stroke="#666" stroke-width="1.1"/>
<text x="241.50" y="41.60" font-size="8.6" text-anchor="middle" fill="#000" transform="rotate(-90 241.50 41.60)" stroke="#000" stroke-width="0.15">100</text>
<line x1="248.80" y1="19.94" x2="254.00" y2="19.94" stroke="#666" stroke-width="1.1"/>
<text x="241.50" y="19.94" font-size="8.6" text-anchor="middle" fill="#000" transform="rotate(-90 241.50 19.94)" stroke="#000" stroke-width="0.15">120</text>
<line x1="259.72" y1="155.50" x2="259.72" y2="160.70" stroke="#666" stroke-width="1.1"/>
<text x="259.22" y="174.00" font-size="8.6" text-anchor="middle" fill="#000" stroke="#000" stroke-width="0.15">-4</text>
<line x1="283.26" y1="155.50" x2="283.26" y2="160.70" stroke="#666" stroke-width="1.1"/>
<text x="282.76" y="174.00" font-size="8.6" text-anchor="middle" fill="#000" stroke="#000" stroke-width="0.15">-2</text>
<line x1="306.80" y1="155.50" x2="306.80" y2="160.70" stroke="#666" stroke-width="1.1"/>
<text x="306.30" y="174.00" font-size="8.6" text-anchor="middle" fill="#000" stroke="#000" stroke-width="0.15">0</text>
<line x1="330.34" y1="155.50" x2="330.34" y2="160.70" stroke="#666" stroke-width="1.1"/>
<text x="329.84" y="174.00" font-size="8.6" text-anchor="middle" fill="#000" stroke="#000" stroke-width="0.15">2</text>
<line x1="353.88" y1="155.50" x2="353.88" y2="160.70" stroke="#666" stroke-width="1.1"/>
<text x="353.38" y="174.00" font-size="8.6" text-anchor="middle" fill="#000" stroke="#000" stroke-width="0.15">4</text>
<line x1="377.42" y1="155.50" x2="377.42" y2="160.70" stroke="#666" stroke-width="1.1"/>
<text x="376.92" y="174.00" font-size="8.6" text-anchor="middle" fill="#000" stroke="#000" stroke-width="0.15">6</text>
<line x1="400.96" y1="155.50" x2="400.96" y2="160.70" stroke="#666" stroke-width="1.1"/>
<text x="400.46" y="174.00" font-size="8.6" text-anchor="middle" fill="#000" stroke="#000" stroke-width="0.15">8</text>
<text x="224.30" y="78.65" font-size="11" text-anchor="middle" fill="#000" stroke="#000" stroke-width="0.18" transform="rotate(-90 224.30 78.65)" >-log10 (BH) p</text>
<text x="329.60" y="188.60" font-size="11" text-anchor="middle" fill="#000" stroke="#000" stroke-width="0.18" >log2 FC</text>
<text x="330.50" y="9.90" font-size="11" text-anchor="middle" fill="#000" stroke="#000" stroke-width="0.18" >no diabetes mellitus</text>
<text x="13.40" y="11.20" font-size="14" text-anchor="start" fill="#000" font-weight="bold" >a</text>
<text x="442.40" y="11.20" font-size="14" text-anchor="start" fill="#000" font-weight="bold" >b</text>
<text x="13.40" y="211.40" font-size="14" text-anchor="start" fill="#000" font-weight="bold" >c</text>
<rect x="482.8" y="12.5" width="146.80" height="131.00" fill="none" stroke="#666" stroke-width="1.2"/>
<line x1="488.52" y1="143.50" x2="488.52" y2="149.80" stroke="#666" stroke-width="1.1"/>
<text x="488.12" y="165.50" font-size="10" text-anchor="middle" fill="#000" stroke="#000" stroke-width="0.18" >-4</text>
<line x1="476.60" y1="138.70" x2="482.80" y2="138.70" stroke="#666" stroke-width="1.1"/>
<text x="469.60" y="138.70" font-size="10" text-anchor="middle" fill="#000" stroke="#000" stroke-width="0.18" transform="rotate(-90 469.60 138.70)" >-4</text>
<line x1="511.06" y1="143.50" x2="511.06" y2="149.80" stroke="#666" stroke-width="1.1"/>
<text x="510.66" y="165.50" font-size="10" text-anchor="middle" fill="#000" stroke="#000" stroke-width="0.18" >-2</text>
<line x1="476.60" y1="118.55" x2="482.80" y2="118.55" stroke="#666" stroke-width="1.1"/>
<text x="469.60" y="118.55" font-size="10" text-anchor="middle" fill="#000" stroke="#000" stroke-width="0.18" transform="rotate(-90 469.60 118.55)" >-2</text>
<line x1="533.60" y1="143.50" x2="533.60" y2="149.80" stroke="#666" stroke-width="1.1"/>
<text x="533.20" y="165.50" font-size="10" text-anchor="middle" fill="#000" stroke="#000" stroke-width="0.18" >0</text>
<line x1="476.60" y1="98.40" x2="482.80" y2="98.40" stroke="#666" stroke-width="1.1"/>
<text x="469.60" y="98.40" font-size="10" text-anchor="middle" fill="#000" stroke="#000" stroke-width="0.18" transform="rotate(-90 469.60 98.40)" >0</text>
<line x1="556.14" y1="143.50" x2="556.14" y2="149.80" stroke="#666" stroke-width="1.1"/>
<text x="555.74" y="165.50" font-size="10" text-anchor="middle" fill="#000" stroke="#000" stroke-width="0.18" >2</text>
<line x1="476.60" y1="78.25" x2="482.80" y2="78.25" stroke="#666" stroke-width="1.1"/>
<text x="469.60" y="78.25" font-size="10" text-anchor="middle" fill="#000" stroke="#000" stroke-width="0.18" transform="rotate(-90 469.60 78.25)" >2</text>
<line x1="578.68" y1="143.50" x2="578.68" y2="149.80" stroke="#666" stroke-width="1.1"/>
<text x="578.28" y="165.50" font-size="10" text-anchor="middle" fill="#000" stroke="#000" stroke-width="0.18" >4</text>
<line x1="476.60" y1="58.10" x2="482.80" y2="58.10" stroke="#666" stroke-width="1.1"/>
<text x="469.60" y="58.10" font-size="10" text-anchor="middle" fill="#000" stroke="#000" stroke-width="0.18" transform="rotate(-90 469.60 58.10)" >4</text>
<line x1="601.22" y1="143.50" x2="601.22" y2="149.80" stroke="#666" stroke-width="1.1"/>
<text x="600.82" y="165.50" font-size="10" text-anchor="middle" fill="#000" stroke="#000" stroke-width="0.18" >6</text>
<line x1="476.60" y1="37.95" x2="482.80" y2="37.95" stroke="#666" stroke-width="1.1"/>
<text x="469.60" y="37.95" font-size="10" text-anchor="middle" fill="#000" stroke="#000" stroke-width="0.18" transform="rotate(-90 469.60 37.95)" >6</text>
<line x1="623.76" y1="143.50" x2="623.76" y2="149.80" stroke="#666" stroke-width="1.1"/>
<text x="623.36" y="165.50" font-size="10" text-anchor="middle" fill="#000" stroke="#000" stroke-width="0.18" >8</text>
<line x1="476.60" y1="17.80" x2="482.80" y2="17.80" stroke="#666" stroke-width="1.1"/>
<text x="469.60" y="17.80" font-size="10" text-anchor="middle" fill="#000" stroke="#000" stroke-width="0.18" transform="rotate(-90 469.60 17.80)" >8</text>
<text x="555.90" y="186.70" font-size="12" text-anchor="middle" fill="#000" stroke="#000" stroke-width="0.18" >log2 FC DM</text>
<text x="448.40" y="87.20" font-size="12" text-anchor="middle" fill="#000" stroke="#000" stroke-width="0.18" transform="rotate(-90 448.40 87.20)" >log2 FC No DM</text>
<polygon points="494.6,133.0 495.9,135.7 498.4,131.9 503.2,128.5 507.9,124.5 511.8,121.7 516.3,117.7 520.6,113.6 525.9,109.2 531.6,103.1 534.1,99.0 534.1,96.8 530.8,97.6 525.1,101.6 519.8,106.1 515.5,109.5 511.0,113.2 507.0,118.7 502.4,123.3 497.5,127.2 494.6,133.0" fill="#000"/>
<polygon points="532.9,97.3 533.1,99.3 535.0,98.6 538.4,94.8 542.9,91.4 547.4,87.8 551.8,83.7 556.3,80.1 560.9,75.1 564.4,70.4 568.0,67.2 570.6,64.8 570.6,57.7 567.2,60.6 563.6,64.1 560.0,67.2 555.5,72.5 551.0,75.1 546.6,79.7 542.1,83.6 537.6,87.3 534.1,92.1 532.9,97.3" fill="#000"/>
<circle cx="506.3" cy="120.1" r="1.1" fill="#000"/><circle cx="496.4" cy="134.7" r="1.1" fill="#000"/><circle cx="514.4" cy="109.7" r="1.1" fill="#000"/><circle cx="506.0" cy="120.3" r="1.1" fill="#000"/><circle cx="515.8" cy="109.6" r="1.1" fill="#000"/><circle cx="495.4" cy="132.7" r="1.1" fill="#000"/><circle cx="523.7" cy="102.8" r="1.1" fill="#000"/><circle cx="496.2" cy="134.8" r="1.1" fill="#000"/><circle cx="533.3" cy="100.5" r="1.1" fill="#000"/><circle cx="503.8" cy="122.6" r="1.1" fill="#000"/><circle cx="530.0" cy="104.1" r="1.1" fill="#000"/><circle cx="532.2" cy="97.6" r="1.1" fill="#000"/><circle cx="530.5" cy="103.4" r="1.1" fill="#000"/><circle cx="499.0" cy="126.1" r="1.1" fill="#000"/>
<circle cx="570.3" cy="59.0" r="1.1" fill="#000"/><circle cx="536.8" cy="87.6" r="1.1" fill="#000"/><circle cx="537.6" cy="95.0" r="1.1" fill="#000"/><circle cx="558.3" cy="77.5" r="1.1" fill="#000"/><circle cx="567.1" cy="67.9" r="1.1" fill="#000"/><circle cx="547.8" cy="78.3" r="1.1" fill="#000"/><circle cx="558.6" cy="77.4" r="1.1" fill="#000"/><circle cx="571.1" cy="62.4" r="1.1" fill="#000"/><circle cx="560.4" cy="74.8" r="1.1" fill="#000"/><circle cx="555.9" cy="79.7" r="1.1" fill="#000"/><circle cx="562.6" cy="64.5" r="1.1" fill="#000"/><circle cx="535.9" cy="96.9" r="1.1" fill="#000"/><circle cx="544.9" cy="90.5" r="1.1" fill="#000"/><circle cx="537.0" cy="97.3" r="1.1" fill="#000"/>
<circle cx="606.8" cy="29.5" r="1.25" fill="#000"/><circle cx="593.6" cy="38.0" r="1.25" fill="#000"/><circle cx="595.7" cy="41.7" r="1.25" fill="#000"/><circle cx="591.5" cy="42.6" r="1.25" fill="#000"/><circle cx="586.0" cy="43.4" r="1.25" fill="#000"/><circle cx="588.0" cy="45.0" r="1.25" fill="#000"/><circle cx="590.2" cy="46.8" r="1.25" fill="#000"/><circle cx="588.6" cy="43.9" r="1.25" fill="#000"/><circle cx="586.5" cy="46.0" r="1.25" fill="#000"/><circle cx="580.7" cy="48.0" r="1.25" fill="#000"/><circle cx="581.6" cy="50.1" r="1.25" fill="#000"/><circle cx="578.2" cy="50.8" r="1.25" fill="#000"/><circle cx="580.2" cy="48.0" r="1.25" fill="#000"/><circle cx="579.8" cy="50.1" r="1.25" fill="#000"/><circle cx="573.3" cy="55.0" r="1.25" fill="#000"/><circle cx="576.8" cy="53.6" r="1.25" fill="#000"/><circle cx="571.2" cy="57.8" r="1.25" fill="#000"/><circle cx="564.2" cy="62.4" r="1.25" fill="#000"/><circle cx="571.9" cy="58.0" r="1.25" fill="#000"/><circle cx="571.9" cy="61.5" r="1.25" fill="#000"/><circle cx="577.5" cy="53.5" r="1.25" fill="#000"/><circle cx="574.0" cy="57.0" r="1.25" fill="#000"/><circle cx="568.0" cy="61.5" r="1.25" fill="#000"/><circle cx="569.0" cy="64.0" r="1.25" fill="#000"/><circle cx="566.5" cy="64.5" r="1.25" fill="#000"/><circle cx="583.0" cy="49.0" r="1.25" fill="#000"/><circle cx="575.0" cy="56.0" r="1.25" fill="#000"/>
<polyline points="483.6,143.4 498,129.5 507,121.5 520.4,109.8 533.4,97.8 540.1,92.1 547,85.5 555.9,77.4 560.4,73 576,58.5 584.4,51 595.3,41.7 606,30.8 625.1,12.4" fill="none" stroke="#ff0000" stroke-width="1.1" stroke-opacity="0.6"/>
<text x="590.90" y="127.70" font-size="12" text-anchor="middle" fill="#000" stroke="#000" stroke-width="0.18" >rho=0.995</text>
<line x1="183.50" y1="207.20" x2="183.50" y2="332.30" stroke="#999" stroke-width="1.0"/>
<line x1="180.90" y1="207.20" x2="183.50" y2="207.20" stroke="#999" stroke-width="1.0"/>
<line x1="180.90" y1="219.71" x2="183.50" y2="219.71" stroke="#999" stroke-width="1.0"/>
<line x1="180.90" y1="232.22" x2="183.50" y2="232.22" stroke="#999" stroke-width="1.0"/>
<line x1="180.90" y1="244.73" x2="183.50" y2="244.73" stroke="#999" stroke-width="1.0"/>
<line x1="180.90" y1="257.24" x2="183.50" y2="257.24" stroke="#999" stroke-width="1.0"/>
<line x1="180.90" y1="269.75" x2="183.50" y2="269.75" stroke="#999" stroke-width="1.0"/>
<line x1="180.90" y1="282.26" x2="183.50" y2="282.26" stroke="#999" stroke-width="1.0"/>
<line x1="180.90" y1="294.77" x2="183.50" y2="294.77" stroke="#999" stroke-width="1.0"/>
<line x1="180.90" y1="307.28" x2="183.50" y2="307.28" stroke="#999" stroke-width="1.0"/>
<line x1="180.90" y1="319.79" x2="183.50" y2="319.79" stroke="#999" stroke-width="1.0"/>
<line x1="180.90" y1="332.30" x2="183.50" y2="332.30" stroke="#999" stroke-width="1.0"/>
<line x1="183.50" y1="332.30" x2="324.50" y2="332.30" stroke="#bbb" stroke-width="1.0"/>
<line x1="183.50" y1="332.30" x2="183.50" y2="334.50" stroke="#bbb" stroke-width="1.0"/>
<text transform="translate(183.50 343.70) scale(1.085 1)" font-size="7.6" text-anchor="middle" fill="#111" stroke="#111" stroke-width="0.12">0</text>
<line x1="218.75" y1="332.30" x2="218.75" y2="334.50" stroke="#bbb" stroke-width="1.0"/>
<text transform="translate(218.75 343.70) scale(1.085 1)" font-size="7.6" text-anchor="middle" fill="#111" stroke="#111" stroke-width="0.12">1</text>
<line x1="254.00" y1="332.30" x2="254.00" y2="334.50" stroke="#bbb" stroke-width="1.0"/>
<text transform="translate(254.00 343.70) scale(1.085 1)" font-size="7.6" text-anchor="middle" fill="#111" stroke="#111" stroke-width="0.12">2</text>
<line x1="289.25" y1="332.30" x2="289.25" y2="334.50" stroke="#bbb" stroke-width="1.0"/>
<text transform="translate(289.25 343.70) scale(1.085 1)" font-size="7.6" text-anchor="middle" fill="#111" stroke="#111" stroke-width="0.12">3</text>
<line x1="324.50" y1="332.30" x2="324.50" y2="334.50" stroke="#bbb" stroke-width="1.0"/>
<text transform="translate(324.50 343.70) scale(1.085 1)" font-size="7.6" text-anchor="middle" fill="#111" stroke="#111" stroke-width="0.12">4</text>
<text transform="translate(254.00 355.10) scale(1.085 1)" font-size="7.6" text-anchor="middle" fill="#111" stroke="#111" stroke-width="0.12">-log10 (BH) p</text>
<rect x="183.90" y="210.95" width="116.68" height="5" fill="#ff0000"/>
<text transform="translate(176.20 216.05) scale(1.09 1)" font-size="7.6" text-anchor="end" fill="#111" stroke="#111" stroke-width="0.12">PPARα/RXRα Activation</text>
<rect x="183.90" y="223.46" width="112.09" height="5" fill="#ff0000"/>
<text transform="translate(176.20 228.56) scale(1.09 1)" font-size="7.6" text-anchor="end" fill="#111" stroke="#111" stroke-width="0.12">IL-10 Signaling</text>
<rect x="183.90" y="235.97" width="84.25" height="5" fill="#ff0000"/>
<text transform="translate(176.20 241.07) scale(1.09 1)" font-size="7.6" text-anchor="end" fill="#111" stroke="#111" stroke-width="0.12">IL-8 Signaling</text>
<rect x="183.90" y="248.48" width="80.72" height="5" fill="#ff0000"/>
<text transform="translate(176.20 253.58) scale(1.09 1)" font-size="7.6" text-anchor="end" fill="#111" stroke="#111" stroke-width="0.12">Production of Nitric Oxide and Reactive Oxygen</text>
<text transform="translate(176.80 253.58) scale(1.09 1)" font-size="7.6" text-anchor="start" fill="#111" stroke="#111" stroke-width="0.12">...</text>
<rect x="183.90" y="261.00" width="71.20" height="5" fill="#ff0000"/>
<text transform="translate(176.20 266.10) scale(1.09 1)" font-size="7.6" text-anchor="end" fill="#111" stroke="#111" stroke-width="0.12">IL-6 Signaling</text>
<rect x="183.90" y="273.50" width="71.56" height="5" fill="#ff0000"/>
<text transform="translate(176.20 278.61) scale(1.09 1)" font-size="7.6" text-anchor="end" fill="#111" stroke="#111" stroke-width="0.12">Role of Tissue Factor in Cancer</text>
<rect x="183.90" y="286.01" width="71.56" height="5" fill="#ff0000"/>
<text transform="translate(176.20 291.12) scale(1.09 1)" font-size="7.6" text-anchor="end" fill="#111" stroke="#111" stroke-width="0.12">Toll-like Receptor Signaling</text>
<rect x="183.90" y="298.52" width="71.20" height="5" fill="#ff0000"/>
<text transform="translate(176.20 303.62) scale(1.09 1)" font-size="7.6" text-anchor="end" fill="#111" stroke="#111" stroke-width="0.12">IL-1 Signaling</text>
<rect x="183.90" y="311.03" width="70.50" height="5" fill="#ff0000"/>
<text transform="translate(176.20 316.13) scale(1.09 1)" font-size="7.6" text-anchor="end" fill="#111" stroke="#111" stroke-width="0.12">Mitochondrial Dysfunction</text>
<rect x="183.90" y="323.54" width="65.56" height="5" fill="#ff0000"/>
<text transform="translate(176.20 328.64) scale(1.09 1)" font-size="7.6" text-anchor="end" fill="#111" stroke="#111" stroke-width="0.12">TREM1 Signaling</text>
<line x1="537.60" y1="207.20" x2="537.60" y2="332.30" stroke="#999" stroke-width="1.0"/>
<line x1="535.00" y1="207.20" x2="537.60" y2="207.20" stroke="#999" stroke-width="1.0"/>
<line x1="535.00" y1="219.71" x2="537.60" y2="219.71" stroke="#999" stroke-width="1.0"/>
<line x1="535.00" y1="232.22" x2="537.60" y2="232.22" stroke="#999" stroke-width="1.0"/>
<line x1="535.00" y1="244.73" x2="537.60" y2="244.73" stroke="#999" stroke-width="1.0"/>
<line x1="535.00" y1="257.24" x2="537.60" y2="257.24" stroke="#999" stroke-width="1.0"/>
<line x1="535.00" y1="269.75" x2="537.60" y2="269.75" stroke="#999" stroke-width="1.0"/>
<line x1="535.00" y1="282.26" x2="537.60" y2="282.26" stroke="#999" stroke-width="1.0"/>
<line x1="535.00" y1="294.77" x2="537.60" y2="294.77" stroke="#999" stroke-width="1.0"/>
<line x1="535.00" y1="307.28" x2="537.60" y2="307.28" stroke="#999" stroke-width="1.0"/>
<line x1="535.00" y1="319.79" x2="537.60" y2="319.79" stroke="#999" stroke-width="1.0"/>
<line x1="535.00" y1="332.30" x2="537.60" y2="332.30" stroke="#999" stroke-width="1.0"/>
<line x1="537.60" y1="332.30" x2="678.90" y2="332.30" stroke="#bbb" stroke-width="1.0"/>
<line x1="537.60" y1="332.30" x2="537.60" y2="334.50" stroke="#bbb" stroke-width="1.0"/>
<text transform="translate(537.60 343.70) scale(1.085 1)" font-size="7.6" text-anchor="middle" fill="#111" stroke="#111" stroke-width="0.12">0</text>
<line x1="584.70" y1="332.30" x2="584.70" y2="334.50" stroke="#bbb" stroke-width="1.0"/>
<text transform="translate(584.70 343.70) scale(1.085 1)" font-size="7.6" text-anchor="middle" fill="#111" stroke="#111" stroke-width="0.12">10</text>
<line x1="631.80" y1="332.30" x2="631.80" y2="334.50" stroke="#bbb" stroke-width="1.0"/>
<text transform="translate(631.80 343.70) scale(1.085 1)" font-size="7.6" text-anchor="middle" fill="#111" stroke="#111" stroke-width="0.12">20</text>
<line x1="678.90" y1="332.30" x2="678.90" y2="334.50" stroke="#bbb" stroke-width="1.0"/>
<text transform="translate(678.90 343.70) scale(1.085 1)" font-size="7.6" text-anchor="middle" fill="#111" stroke="#111" stroke-width="0.12">30</text>
<text transform="translate(608.25 355.10) scale(1.085 1)" font-size="7.6" text-anchor="middle" fill="#111" stroke="#111" stroke-width="0.12">-log10 (BH) p</text>
<rect x="538.00" y="210.95" width="103.62" height="5" fill="#6cdaf2"/>
<text transform="translate(530.60 216.05) scale(1.1 1)" font-size="7.6" text-anchor="end" fill="#111" stroke="#111" stroke-width="0.12">EIF2 Signaling</text>
<rect x="538.00" y="223.46" width="61.23" height="5" fill="#6cdaf2"/>
<text transform="translate(530.60 228.56) scale(1.1 1)" font-size="7.6" text-anchor="end" fill="#111" stroke="#111" stroke-width="0.12">Regulation of eIF4 and p70S6K Signaling</text>
<rect x="538.00" y="235.97" width="51.81" height="5" fill="#6cdaf2"/>
<text transform="translate(530.60 241.07) scale(1.1 1)" font-size="7.6" text-anchor="end" fill="#111" stroke="#111" stroke-width="0.12">mTOR Signaling</text>
<rect x="538.00" y="248.48" width="44.27" height="5" fill="#6cdaf2"/>
<text transform="translate(530.60 253.58) scale(1.1 1)" font-size="7.6" text-anchor="end" fill="#111" stroke="#111" stroke-width="0.12">Calcium-induced T Lymphocyte Apoptosis</text>
<rect x="538.00" y="261.00" width="35.80" height="5" fill="#6cdaf2"/>
<text transform="translate(530.60 266.10) scale(1.1 1)" font-size="7.6" text-anchor="end" fill="#111" stroke="#111" stroke-width="0.12">B Cell Development</text>
<rect x="538.00" y="273.50" width="35.09" height="5" fill="#6cdaf2"/>
<text transform="translate(530.60 278.61) scale(1.1 1)" font-size="7.6" text-anchor="end" fill="#111" stroke="#111" stroke-width="0.12">iCOS-iCOSL Signaling in T Helper Cells</text>
<rect x="538.00" y="286.01" width="33.91" height="5" fill="#6cdaf2"/>
<text transform="translate(530.60 291.12) scale(1.1 1)" font-size="7.6" text-anchor="end" fill="#111" stroke="#111" stroke-width="0.12">Nur77 Signaling in T Lymphocytes</text>
<rect x="538.00" y="298.52" width="33.21" height="5" fill="#6cdaf2"/>
<text transform="translate(530.60 303.62) scale(1.1 1)" font-size="7.6" text-anchor="end" fill="#111" stroke="#111" stroke-width="0.12">Role of NFAT in Regulation of the Immune Response</text>
<rect x="538.00" y="311.03" width="32.73" height="5" fill="#6cdaf2"/>
<text transform="translate(530.60 316.13) scale(1.1 1)" font-size="7.6" text-anchor="end" fill="#111" stroke="#111" stroke-width="0.12">PKCθ Signaling in T Lymphocytes</text>
<rect x="538.00" y="323.54" width="26.85" height="5" fill="#6cdaf2"/>
<text transform="translate(530.60 328.64) scale(1.1 1)" font-size="7.6" text-anchor="end" fill="#111" stroke="#111" stroke-width="0.12">CD28 Signaling in T Helper Cells</text>
</svg>
</body></html>
